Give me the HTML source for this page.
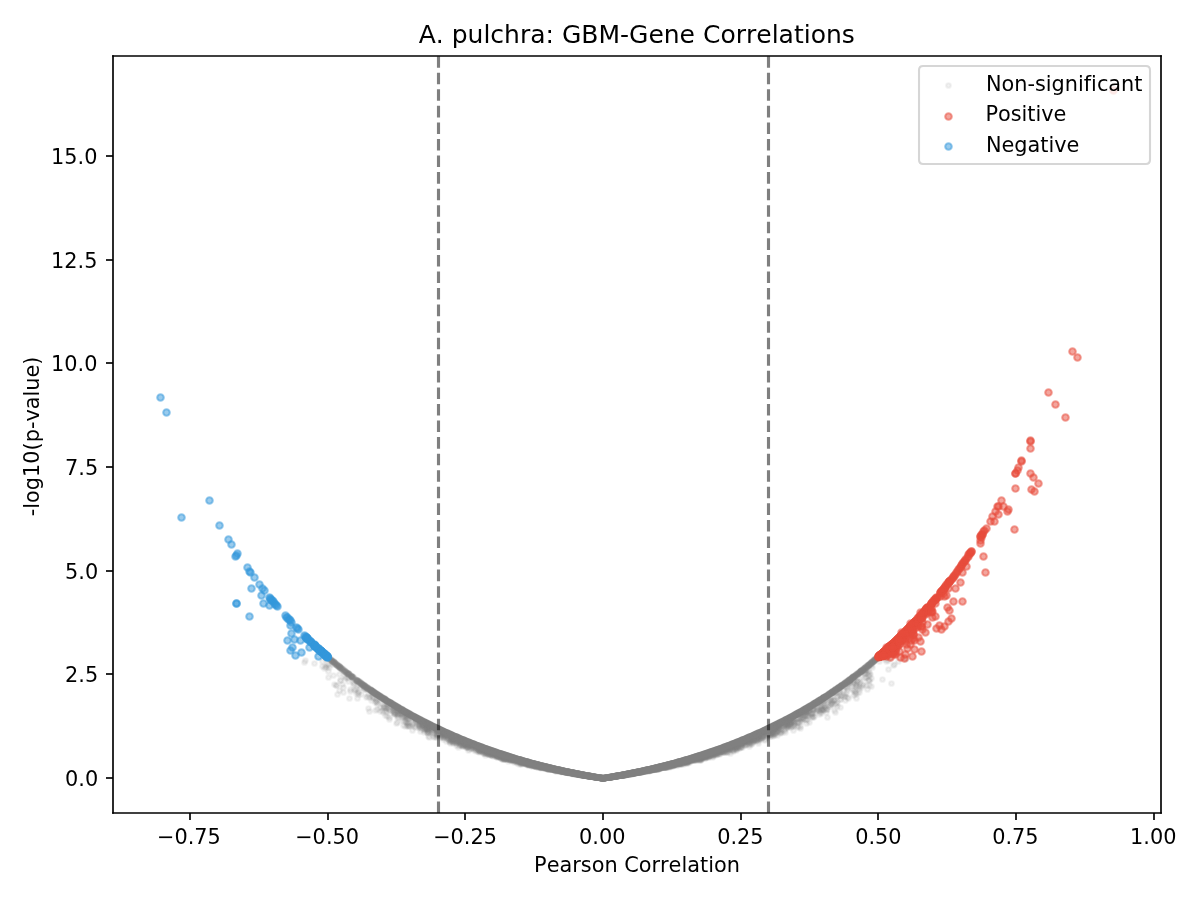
<!DOCTYPE html>
<html lang="en"><head><meta charset="utf-8"><title>A. pulchra: GBM-Gene Correlations</title>
<style>
html,body{margin:0;padding:0;background:#fff}
svg{display:block}
text{font-family:"DejaVu Sans","Liberation Sans",sans-serif;fill:#000;font-variant-ligatures:none;font-kerning:none}
.t{font-size:20.833px}
.ti{font-size:25px}
</style></head>
<body>
<svg width="1200" height="900" viewBox="0 0 1200 900">
<rect width="1200" height="900" fill="#fff"/>
<defs><clipPath id="c"><rect x="113" y="56" width="1048" height="757"/></clipPath></defs>
<g clip-path="url(#c)">
<g fill="#808080" stroke="#808080" stroke-width="2.083" fill-opacity="0.100" stroke-opacity="0.100">
<circle cx="304.5" cy="662.5" r="2.33"/><circle cx="305.5" cy="660.5" r="2.33"/><circle cx="314.5" cy="663.5" r="2.33"/><circle cx="322.5" cy="661.5" r="2.33"/><circle cx="322.5" cy="666.5" r="2.33"/><circle cx="324.5" cy="668.5" r="2.33"/><circle cx="325.5" cy="666.5" r="2.33"/><circle cx="326.5" cy="659.5" r="2.33"/><circle cx="326.5" cy="667.5" r="2.33"/><circle cx="327.5" cy="664.5" r="2.33"/><circle cx="328.5" cy="665.5" r="2.33"/><circle cx="328.5" cy="671.5" r="2.33"/><circle cx="328.5" cy="677.5" r="2.33"/><circle cx="329.5" cy="667.5" r="2.33"/><circle cx="331.5" cy="659.5" r="2.33"/><circle cx="333.5" cy="662.5" r="2.33"/><circle cx="333.5" cy="664.5" r="2.33"/><circle cx="333.5" cy="675.5" r="2.33"/><circle cx="334.5" cy="663.5" r="2.33"/><circle cx="334.5" cy="684.5" r="2.33"/><circle cx="335.5" cy="664.5" r="2.33"/><circle cx="337.5" cy="664.5" r="2.33"/><circle cx="337.5" cy="694.5" r="2.33"/><circle cx="338.5" cy="665.5" r="2.33"/><circle cx="339.5" cy="674.5" r="2.33"/><circle cx="339.5" cy="690.5" r="2.33"/><circle cx="342.5" cy="668.5" r="2.33"/><circle cx="342.5" cy="684.5" r="2.33"/><circle cx="343.5" cy="669.5" r="2.33"/><circle cx="343.5" cy="687.5" r="2.33"/><circle cx="343.5" cy="692.5" r="2.33"/><circle cx="344.5" cy="676.5" r="2.33"/><circle cx="345.5" cy="678.5" r="2.33"/><circle cx="346.5" cy="677.5" r="2.33"/><circle cx="348.5" cy="678.5" r="2.33"/><circle cx="348.5" cy="681.5" r="2.33"/><circle cx="349.5" cy="698.5" r="2.33"/><circle cx="350.5" cy="689.5" r="2.33"/><circle cx="350.5" cy="691.5" r="2.33"/><circle cx="353.5" cy="678.5" r="2.33"/><circle cx="353.5" cy="682.5" r="2.33"/><circle cx="353.5" cy="684.5" r="2.33"/><circle cx="354.5" cy="678.5" r="2.33"/><circle cx="354.5" cy="683.5" r="2.33"/><circle cx="354.5" cy="689.5" r="2.33"/><circle cx="355.5" cy="690.5" r="2.33"/><circle cx="356.5" cy="688.5" r="2.33"/><circle cx="356.5" cy="693.5" r="2.33"/><circle cx="357.5" cy="698.5" r="2.33"/><circle cx="358.5" cy="685.5" r="2.33"/><circle cx="358.5" cy="694.5" r="2.33"/><circle cx="360.5" cy="683.5" r="2.33"/><circle cx="360.5" cy="687.5" r="2.33"/><circle cx="361.5" cy="694.5" r="2.33"/><circle cx="363.5" cy="684.5" r="2.33"/><circle cx="363.5" cy="687.5" r="2.33"/><circle cx="364.5" cy="688.5" r="2.33"/><circle cx="364.5" cy="689.5" r="2.33"/><circle cx="366.5" cy="697.5" r="2.33"/><circle cx="367.5" cy="696.5" r="2.33"/><circle cx="368.5" cy="694.5" r="2.33"/><circle cx="368.5" cy="708.5" r="2.33"/><circle cx="369.5" cy="697.5" r="2.33"/><circle cx="369.5" cy="711.5" r="2.33"/><circle cx="371.5" cy="692.5" r="2.33"/><circle cx="371.5" cy="700.5" r="2.33"/><circle cx="372.5" cy="695.5" r="2.33"/><circle cx="372.5" cy="697.5" r="2.33"/><circle cx="373.5" cy="693.5" r="2.33"/><circle cx="373.5" cy="697.5" r="2.33"/><circle cx="373.5" cy="698.5" r="2.33"/><circle cx="374.5" cy="693.5" r="2.33"/><circle cx="375.5" cy="702.5" r="2.33"/><circle cx="375.5" cy="710.5" r="2.33"/><circle cx="376.5" cy="699.5" r="2.33"/><circle cx="377.5" cy="702.5" r="2.33"/><circle cx="377.5" cy="704.5" r="2.33"/><circle cx="377.5" cy="709.5" r="2.33"/><circle cx="378.5" cy="699.5" r="2.33"/><circle cx="380.5" cy="707.5" r="2.33"/><circle cx="380.5" cy="711.5" r="2.33"/><circle cx="381.5" cy="696.5" r="2.33"/><circle cx="382.5" cy="703.5" r="2.33"/><circle cx="382.5" cy="710.5" r="2.33"/><circle cx="383.5" cy="705.5" r="2.33"/><circle cx="383.5" cy="707.5" r="2.33"/><circle cx="383.5" cy="712.5" r="2.33"/><circle cx="384.5" cy="701.5" r="2.33"/><circle cx="385.5" cy="710.5" r="2.33"/><circle cx="385.5" cy="715.5" r="2.33"/><circle cx="386.5" cy="708.5" r="2.33"/><circle cx="386.5" cy="712.5" r="2.33"/><circle cx="387.5" cy="702.5" r="2.33"/><circle cx="387.5" cy="704.5" r="2.33"/><circle cx="387.5" cy="716.5" r="2.33"/><circle cx="388.5" cy="703.5" r="2.33"/><circle cx="388.5" cy="705.5" r="2.33"/><circle cx="389.5" cy="717.5" r="2.33"/><circle cx="389.5" cy="719.5" r="2.33"/><circle cx="390.5" cy="704.5" r="2.33"/><circle cx="391.5" cy="710.5" r="2.33"/><circle cx="393.5" cy="707.5" r="2.33"/><circle cx="393.5" cy="708.5" r="2.33"/><circle cx="393.5" cy="709.5" r="2.33"/><circle cx="393.5" cy="711.5" r="2.33"/><circle cx="393.5" cy="712.5" r="2.33"/><circle cx="394.5" cy="708.5" r="2.33"/><circle cx="394.5" cy="711.5" r="2.33"/><circle cx="394.5" cy="714.5" r="2.33"/><circle cx="396.5" cy="712.5" r="2.33"/><circle cx="396.5" cy="723.5" r="2.33"/><circle cx="397.5" cy="711.5" r="2.33"/><circle cx="397.5" cy="714.5" r="2.33"/><circle cx="397.5" cy="715.5" r="2.33"/><circle cx="397.5" cy="717.5" r="2.33"/><circle cx="397.5" cy="722.5" r="2.33"/><circle cx="398.5" cy="709.5" r="2.33"/><circle cx="398.5" cy="710.5" r="2.33"/><circle cx="398.5" cy="713.5" r="2.33"/><circle cx="398.5" cy="714.5" r="2.33"/><circle cx="398.5" cy="717.5" r="2.33"/><circle cx="399.5" cy="711.5" r="2.33"/><circle cx="400.5" cy="710.5" r="2.33"/><circle cx="400.5" cy="713.5" r="2.33"/><circle cx="400.5" cy="714.5" r="2.33"/><circle cx="401.5" cy="710.5" r="2.33"/><circle cx="402.5" cy="711.5" r="2.33"/><circle cx="402.5" cy="713.5" r="2.33"/><circle cx="402.5" cy="717.5" r="2.33"/><circle cx="402.5" cy="720.5" r="2.33"/><circle cx="403.5" cy="715.5" r="2.33"/><circle cx="403.5" cy="717.5" r="2.33"/><circle cx="403.5" cy="725.5" r="2.33"/><circle cx="404.5" cy="712.5" r="2.33"/><circle cx="404.5" cy="716.5" r="2.33"/><circle cx="404.5" cy="721.5" r="2.33"/><circle cx="405.5" cy="713.5" r="2.33"/><circle cx="405.5" cy="716.5" r="2.33"/><circle cx="405.5" cy="719.5" r="2.33"/><circle cx="405.5" cy="726.5" r="2.33"/><circle cx="406.5" cy="716.5" r="2.33"/><circle cx="406.5" cy="717.5" r="2.33"/><circle cx="406.5" cy="721.5" r="2.33"/><circle cx="406.5" cy="722.5" r="2.33"/><circle cx="407.5" cy="714.5" r="2.33"/><circle cx="407.5" cy="715.5" r="2.33"/><circle cx="407.5" cy="717.5" r="2.33"/><circle cx="407.5" cy="718.5" r="2.33"/><circle cx="407.5" cy="723.5" r="2.33"/><circle cx="408.5" cy="714.5" r="2.33"/><circle cx="408.5" cy="715.5" r="2.33"/><circle cx="408.5" cy="722.5" r="2.33"/><circle cx="408.5" cy="723.5" r="2.33"/><circle cx="408.5" cy="726.5" r="2.33"/><circle cx="409.5" cy="715.5" r="2.33"/><circle cx="409.5" cy="716.5" r="2.33"/><circle cx="409.5" cy="725.5" r="2.33"/><circle cx="409.5" cy="726.5" r="2.33"/><circle cx="411.5" cy="714.5" r="2.33"/><circle cx="412.5" cy="718.5" r="2.33"/><circle cx="412.5" cy="719.5" r="2.33"/><circle cx="412.5" cy="725.5" r="2.33"/><circle cx="412.5" cy="730.5" r="2.33"/><circle cx="413.5" cy="723.5" r="2.33"/><circle cx="413.5" cy="724.5" r="2.33"/><circle cx="414.5" cy="726.5" r="2.33"/><circle cx="415.5" cy="722.5" r="2.33"/><circle cx="415.5" cy="727.5" r="2.33"/><circle cx="416.5" cy="720.5" r="2.33"/><circle cx="416.5" cy="721.5" r="2.33"/><circle cx="417.5" cy="721.5" r="2.33"/><circle cx="418.5" cy="720.5" r="2.33"/><circle cx="418.5" cy="727.5" r="2.33"/><circle cx="419.5" cy="720.5" r="2.33"/><circle cx="419.5" cy="723.5" r="2.33"/><circle cx="419.5" cy="724.5" r="2.33"/><circle cx="419.5" cy="726.5" r="2.33"/><circle cx="420.5" cy="721.5" r="2.33"/><circle cx="420.5" cy="723.5" r="2.33"/><circle cx="420.5" cy="726.5" r="2.33"/><circle cx="420.5" cy="727.5" r="2.33"/><circle cx="420.5" cy="728.5" r="2.33"/><circle cx="420.5" cy="731.5" r="2.33"/><circle cx="421.5" cy="721.5" r="2.33"/><circle cx="421.5" cy="724.5" r="2.33"/><circle cx="422.5" cy="723.5" r="2.33"/><circle cx="422.5" cy="724.5" r="2.33"/><circle cx="422.5" cy="726.5" r="2.33"/><circle cx="422.5" cy="729.5" r="2.33"/><circle cx="424.5" cy="730.5" r="2.33"/><circle cx="424.5" cy="732.5" r="2.33"/><circle cx="425.5" cy="724.5" r="2.33"/><circle cx="425.5" cy="725.5" r="2.33"/><circle cx="425.5" cy="728.5" r="2.33"/><circle cx="425.5" cy="729.5" r="2.33"/><circle cx="426.5" cy="726.5" r="2.33"/><circle cx="426.5" cy="729.5" r="2.33"/><circle cx="427.5" cy="725.5" r="2.33"/><circle cx="427.5" cy="729.5" r="2.33"/><circle cx="427.5" cy="730.5" r="2.33"/><circle cx="428.5" cy="727.5" r="2.33"/><circle cx="428.5" cy="729.5" r="2.33"/><circle cx="428.5" cy="730.5" r="2.33"/><circle cx="428.5" cy="731.5" r="2.33"/><circle cx="428.5" cy="733.5" r="2.33"/><circle cx="428.5" cy="736.5" r="2.33"/><circle cx="429.5" cy="727.5" r="2.33"/><circle cx="429.5" cy="728.5" r="2.33"/><circle cx="429.5" cy="731.5" r="2.33"/><circle cx="429.5" cy="737.5" r="2.33"/><circle cx="430.5" cy="727.5" r="2.33"/><circle cx="430.5" cy="732.5" r="2.33"/><circle cx="431.5" cy="727.5" r="2.33"/><circle cx="431.5" cy="729.5" r="2.33"/><circle cx="432.5" cy="727.5" r="2.33"/><circle cx="432.5" cy="729.5" r="2.33"/><circle cx="432.5" cy="731.5" r="2.33"/><circle cx="432.5" cy="732.5" r="2.33"/><circle cx="433.5" cy="733.5" r="2.33"/><circle cx="433.5" cy="736.5" r="2.33"/><circle cx="434.5" cy="728.5" r="2.33"/><circle cx="434.5" cy="737.5" r="2.33"/><circle cx="435.5" cy="729.5" r="2.33"/><circle cx="435.5" cy="734.5" r="2.33"/><circle cx="436.5" cy="729.5" r="2.33"/><circle cx="436.5" cy="731.5" r="2.33"/><circle cx="436.5" cy="736.5" r="2.33"/><circle cx="436.5" cy="737.5" r="2.33"/><circle cx="437.5" cy="732.5" r="2.33"/><circle cx="437.5" cy="735.5" r="2.33"/><circle cx="438.5" cy="730.5" r="2.33"/><circle cx="438.5" cy="735.5" r="2.33"/><circle cx="439.5" cy="732.5" r="2.33"/><circle cx="439.5" cy="734.5" r="2.33"/><circle cx="440.5" cy="731.5" r="2.33"/><circle cx="440.5" cy="734.5" r="2.33"/><circle cx="440.5" cy="735.5" r="2.33"/><circle cx="440.5" cy="737.5" r="2.33"/><circle cx="441.5" cy="733.5" r="2.33"/><circle cx="442.5" cy="733.5" r="2.33"/><circle cx="442.5" cy="734.5" r="2.33"/><circle cx="442.5" cy="735.5" r="2.33"/><circle cx="442.5" cy="736.5" r="2.33"/><circle cx="442.5" cy="737.5" r="2.33"/><circle cx="443.5" cy="732.5" r="2.33"/><circle cx="443.5" cy="733.5" r="2.33"/><circle cx="443.5" cy="734.5" r="2.33"/><circle cx="443.5" cy="739.5" r="2.33"/><circle cx="444.5" cy="734.5" r="2.33"/><circle cx="444.5" cy="736.5" r="2.33"/><circle cx="444.5" cy="737.5" r="2.33"/><circle cx="445.5" cy="734.5" r="2.33"/><circle cx="445.5" cy="735.5" r="2.33"/><circle cx="445.5" cy="736.5" r="2.33"/><circle cx="446.5" cy="733.5" r="2.33"/><circle cx="446.5" cy="741.5" r="2.33"/><circle cx="448.5" cy="736.5" r="2.33"/><circle cx="448.5" cy="737.5" r="2.33"/><circle cx="449.5" cy="736.5" r="2.33"/><circle cx="449.5" cy="739.5" r="2.33"/><circle cx="449.5" cy="740.5" r="2.33"/><circle cx="449.5" cy="741.5" r="2.33"/><circle cx="450.5" cy="735.5" r="2.33"/><circle cx="450.5" cy="738.5" r="2.33"/><circle cx="450.5" cy="739.5" r="2.33"/><circle cx="450.5" cy="742.5" r="2.33"/><circle cx="450.5" cy="743.5" r="2.33"/><circle cx="451.5" cy="741.5" r="2.33"/><circle cx="452.5" cy="736.5" r="2.33"/><circle cx="452.5" cy="738.5" r="2.33"/><circle cx="452.5" cy="739.5" r="2.33"/><circle cx="452.5" cy="740.5" r="2.33"/><circle cx="453.5" cy="743.5" r="2.33"/><circle cx="454.5" cy="739.5" r="2.33"/><circle cx="454.5" cy="740.5" r="2.33"/><circle cx="455.5" cy="738.5" r="2.33"/><circle cx="455.5" cy="742.5" r="2.33"/><circle cx="456.5" cy="738.5" r="2.33"/><circle cx="456.5" cy="740.5" r="2.33"/><circle cx="456.5" cy="743.5" r="2.33"/><circle cx="456.5" cy="745.5" r="2.33"/><circle cx="457.5" cy="738.5" r="2.33"/><circle cx="457.5" cy="741.5" r="2.33"/><circle cx="458.5" cy="741.5" r="2.33"/><circle cx="458.5" cy="747.5" r="2.33"/><circle cx="459.5" cy="739.5" r="2.33"/><circle cx="459.5" cy="742.5" r="2.33"/><circle cx="459.5" cy="744.5" r="2.33"/><circle cx="459.5" cy="745.5" r="2.33"/><circle cx="460.5" cy="740.5" r="2.33"/><circle cx="460.5" cy="745.5" r="2.33"/><circle cx="461.5" cy="744.5" r="2.33"/><circle cx="461.5" cy="745.5" r="2.33"/><circle cx="462.5" cy="745.5" r="2.33"/><circle cx="462.5" cy="746.5" r="2.33"/><circle cx="463.5" cy="745.5" r="2.33"/><circle cx="463.5" cy="746.5" r="2.33"/><circle cx="464.5" cy="744.5" r="2.33"/><circle cx="465.5" cy="742.5" r="2.33"/><circle cx="466.5" cy="744.5" r="2.33"/><circle cx="466.5" cy="745.5" r="2.33"/><circle cx="468.5" cy="745.5" r="2.33"/><circle cx="468.5" cy="746.5" r="2.33"/><circle cx="468.5" cy="750.5" r="2.33"/><circle cx="469.5" cy="744.5" r="2.33"/><circle cx="469.5" cy="749.5" r="2.33"/><circle cx="470.5" cy="744.5" r="2.33"/><circle cx="470.5" cy="745.5" r="2.33"/><circle cx="470.5" cy="746.5" r="2.33"/><circle cx="471.5" cy="744.5" r="2.33"/><circle cx="472.5" cy="747.5" r="2.33"/><circle cx="473.5" cy="747.5" r="2.33"/><circle cx="473.5" cy="748.5" r="2.33"/><circle cx="474.5" cy="745.5" r="2.33"/><circle cx="474.5" cy="747.5" r="2.33"/><circle cx="474.5" cy="749.5" r="2.33"/><circle cx="474.5" cy="750.5" r="2.33"/><circle cx="475.5" cy="746.5" r="2.33"/><circle cx="475.5" cy="747.5" r="2.33"/><circle cx="476.5" cy="748.5" r="2.33"/><circle cx="476.5" cy="751.5" r="2.33"/><circle cx="477.5" cy="747.5" r="2.33"/><circle cx="478.5" cy="748.5" r="2.33"/><circle cx="479.5" cy="749.5" r="2.33"/><circle cx="479.5" cy="752.5" r="2.33"/><circle cx="480.5" cy="748.5" r="2.33"/><circle cx="481.5" cy="748.5" r="2.33"/><circle cx="482.5" cy="749.5" r="2.33"/><circle cx="483.5" cy="750.5" r="2.33"/><circle cx="483.5" cy="752.5" r="2.33"/><circle cx="483.5" cy="753.5" r="2.33"/><circle cx="484.5" cy="751.5" r="2.33"/><circle cx="485.5" cy="753.5" r="2.33"/><circle cx="485.5" cy="755.5" r="2.33"/><circle cx="486.5" cy="751.5" r="2.33"/><circle cx="486.5" cy="752.5" r="2.33"/><circle cx="487.5" cy="752.5" r="2.33"/><circle cx="487.5" cy="753.5" r="2.33"/><circle cx="489.5" cy="752.5" r="2.33"/><circle cx="489.5" cy="754.5" r="2.33"/><circle cx="490.5" cy="754.5" r="2.33"/><circle cx="490.5" cy="755.5" r="2.33"/><circle cx="491.5" cy="753.5" r="2.33"/><circle cx="491.5" cy="755.5" r="2.33"/><circle cx="492.5" cy="752.5" r="2.33"/><circle cx="492.5" cy="754.5" r="2.33"/><circle cx="493.5" cy="753.5" r="2.33"/><circle cx="493.5" cy="756.5" r="2.33"/><circle cx="494.5" cy="753.5" r="2.33"/><circle cx="495.5" cy="753.5" r="2.33"/><circle cx="495.5" cy="754.5" r="2.33"/><circle cx="495.5" cy="756.5" r="2.33"/><circle cx="496.5" cy="756.5" r="2.33"/><circle cx="499.5" cy="757.5" r="2.33"/><circle cx="500.5" cy="756.5" r="2.33"/><circle cx="501.5" cy="757.5" r="2.33"/><circle cx="502.5" cy="759.5" r="2.33"/><circle cx="504.5" cy="759.5" r="2.33"/><circle cx="505.5" cy="758.5" r="2.33"/><circle cx="505.5" cy="759.5" r="2.33"/><circle cx="508.5" cy="761.5" r="2.33"/><circle cx="511.5" cy="759.5" r="2.33"/><circle cx="513.5" cy="760.5" r="2.33"/><circle cx="513.5" cy="761.5" r="2.33"/><circle cx="514.5" cy="762.5" r="2.33"/><circle cx="515.5" cy="761.5" r="2.33"/><circle cx="517.5" cy="761.5" r="2.33"/><circle cx="517.5" cy="762.5" r="2.33"/><circle cx="517.5" cy="763.5" r="2.33"/><circle cx="519.5" cy="762.5" r="2.33"/><circle cx="519.5" cy="764.5" r="2.33"/><circle cx="520.5" cy="762.5" r="2.33"/><circle cx="520.5" cy="763.5" r="2.33"/><circle cx="521.5" cy="764.5" r="2.33"/><circle cx="522.5" cy="763.5" r="2.33"/><circle cx="527.5" cy="764.5" r="2.33"/><circle cx="531.5" cy="765.5" r="2.33"/><circle cx="537.5" cy="767.5" r="2.33"/><circle cx="541.5" cy="768.5" r="2.33"/><circle cx="544.5" cy="768.5" r="2.33"/><circle cx="547.5" cy="769.5" r="2.33"/><circle cx="550.5" cy="769.5" r="2.33"/><circle cx="559.5" cy="771.5" r="2.33"/><circle cx="562.5" cy="772.5" r="2.33"/><circle cx="573.5" cy="774.5" r="2.33"/><circle cx="580.5" cy="775.5" r="2.33"/><circle cx="600.5" cy="778.5" r="2.33"/><circle cx="625.5" cy="775.5" r="2.33"/><circle cx="630.5" cy="774.5" r="2.33"/><circle cx="646.5" cy="771.5" r="2.33"/><circle cx="651.5" cy="770.5" r="2.33"/><circle cx="652.5" cy="770.5" r="2.33"/><circle cx="658.5" cy="769.5" r="2.33"/><circle cx="667.5" cy="767.5" r="2.33"/><circle cx="669.5" cy="767.5" r="2.33"/><circle cx="670.5" cy="766.5" r="2.33"/><circle cx="671.5" cy="766.5" r="2.33"/><circle cx="672.5" cy="766.5" r="2.33"/><circle cx="674.5" cy="765.5" r="2.33"/><circle cx="676.5" cy="765.5" r="2.33"/><circle cx="677.5" cy="764.5" r="2.33"/><circle cx="677.5" cy="765.5" r="2.33"/><circle cx="680.5" cy="764.5" r="2.33"/><circle cx="681.5" cy="764.5" r="2.33"/><circle cx="683.5" cy="764.5" r="2.33"/><circle cx="684.5" cy="763.5" r="2.33"/><circle cx="686.5" cy="763.5" r="2.33"/><circle cx="687.5" cy="762.5" r="2.33"/><circle cx="687.5" cy="763.5" r="2.33"/><circle cx="688.5" cy="758.5" r="2.33"/><circle cx="688.5" cy="762.5" r="2.33"/><circle cx="689.5" cy="761.5" r="2.33"/><circle cx="689.5" cy="762.5" r="2.33"/><circle cx="690.5" cy="761.5" r="2.33"/><circle cx="693.5" cy="759.5" r="2.33"/><circle cx="694.5" cy="760.5" r="2.33"/><circle cx="696.5" cy="760.5" r="2.33"/><circle cx="697.5" cy="759.5" r="2.33"/><circle cx="698.5" cy="758.5" r="2.33"/><circle cx="698.5" cy="759.5" r="2.33"/><circle cx="699.5" cy="760.5" r="2.33"/><circle cx="701.5" cy="757.5" r="2.33"/><circle cx="702.5" cy="756.5" r="2.33"/><circle cx="702.5" cy="758.5" r="2.33"/><circle cx="704.5" cy="757.5" r="2.33"/><circle cx="704.5" cy="758.5" r="2.33"/><circle cx="705.5" cy="758.5" r="2.33"/><circle cx="707.5" cy="756.5" r="2.33"/><circle cx="708.5" cy="754.5" r="2.33"/><circle cx="710.5" cy="756.5" r="2.33"/><circle cx="711.5" cy="755.5" r="2.33"/><circle cx="712.5" cy="755.5" r="2.33"/><circle cx="712.5" cy="757.5" r="2.33"/><circle cx="713.5" cy="753.5" r="2.33"/><circle cx="713.5" cy="755.5" r="2.33"/><circle cx="713.5" cy="756.5" r="2.33"/><circle cx="714.5" cy="754.5" r="2.33"/><circle cx="715.5" cy="752.5" r="2.33"/><circle cx="715.5" cy="754.5" r="2.33"/><circle cx="715.5" cy="755.5" r="2.33"/><circle cx="716.5" cy="754.5" r="2.33"/><circle cx="718.5" cy="751.5" r="2.33"/><circle cx="718.5" cy="753.5" r="2.33"/><circle cx="719.5" cy="752.5" r="2.33"/><circle cx="719.5" cy="753.5" r="2.33"/><circle cx="719.5" cy="754.5" r="2.33"/><circle cx="720.5" cy="753.5" r="2.33"/><circle cx="722.5" cy="751.5" r="2.33"/><circle cx="723.5" cy="751.5" r="2.33"/><circle cx="723.5" cy="752.5" r="2.33"/><circle cx="724.5" cy="749.5" r="2.33"/><circle cx="724.5" cy="752.5" r="2.33"/><circle cx="725.5" cy="747.5" r="2.33"/><circle cx="725.5" cy="752.5" r="2.33"/><circle cx="726.5" cy="748.5" r="2.33"/><circle cx="726.5" cy="749.5" r="2.33"/><circle cx="726.5" cy="750.5" r="2.33"/><circle cx="727.5" cy="749.5" r="2.33"/><circle cx="727.5" cy="751.5" r="2.33"/><circle cx="728.5" cy="749.5" r="2.33"/><circle cx="729.5" cy="748.5" r="2.33"/><circle cx="729.5" cy="751.5" r="2.33"/><circle cx="730.5" cy="748.5" r="2.33"/><circle cx="730.5" cy="749.5" r="2.33"/><circle cx="730.5" cy="753.5" r="2.33"/><circle cx="731.5" cy="746.5" r="2.33"/><circle cx="731.5" cy="749.5" r="2.33"/><circle cx="732.5" cy="750.5" r="2.33"/><circle cx="733.5" cy="745.5" r="2.33"/><circle cx="733.5" cy="749.5" r="2.33"/><circle cx="733.5" cy="750.5" r="2.33"/><circle cx="733.5" cy="751.5" r="2.33"/><circle cx="735.5" cy="746.5" r="2.33"/><circle cx="735.5" cy="747.5" r="2.33"/><circle cx="735.5" cy="749.5" r="2.33"/><circle cx="736.5" cy="743.5" r="2.33"/><circle cx="736.5" cy="747.5" r="2.33"/><circle cx="736.5" cy="749.5" r="2.33"/><circle cx="736.5" cy="750.5" r="2.33"/><circle cx="737.5" cy="746.5" r="2.33"/><circle cx="738.5" cy="746.5" r="2.33"/><circle cx="738.5" cy="748.5" r="2.33"/><circle cx="739.5" cy="743.5" r="2.33"/><circle cx="739.5" cy="746.5" r="2.33"/><circle cx="739.5" cy="748.5" r="2.33"/><circle cx="741.5" cy="743.5" r="2.33"/><circle cx="741.5" cy="745.5" r="2.33"/><circle cx="741.5" cy="746.5" r="2.33"/><circle cx="741.5" cy="747.5" r="2.33"/><circle cx="742.5" cy="742.5" r="2.33"/><circle cx="742.5" cy="743.5" r="2.33"/><circle cx="742.5" cy="744.5" r="2.33"/><circle cx="742.5" cy="747.5" r="2.33"/><circle cx="743.5" cy="740.5" r="2.33"/><circle cx="743.5" cy="743.5" r="2.33"/><circle cx="744.5" cy="744.5" r="2.33"/><circle cx="744.5" cy="745.5" r="2.33"/><circle cx="745.5" cy="740.5" r="2.33"/><circle cx="745.5" cy="741.5" r="2.33"/><circle cx="745.5" cy="742.5" r="2.33"/><circle cx="745.5" cy="745.5" r="2.33"/><circle cx="746.5" cy="739.5" r="2.33"/><circle cx="747.5" cy="740.5" r="2.33"/><circle cx="748.5" cy="742.5" r="2.33"/><circle cx="748.5" cy="744.5" r="2.33"/><circle cx="749.5" cy="738.5" r="2.33"/><circle cx="749.5" cy="741.5" r="2.33"/><circle cx="749.5" cy="743.5" r="2.33"/><circle cx="749.5" cy="746.5" r="2.33"/><circle cx="750.5" cy="737.5" r="2.33"/><circle cx="750.5" cy="738.5" r="2.33"/><circle cx="750.5" cy="741.5" r="2.33"/><circle cx="750.5" cy="742.5" r="2.33"/><circle cx="750.5" cy="744.5" r="2.33"/><circle cx="751.5" cy="737.5" r="2.33"/><circle cx="751.5" cy="738.5" r="2.33"/><circle cx="751.5" cy="744.5" r="2.33"/><circle cx="752.5" cy="742.5" r="2.33"/><circle cx="752.5" cy="743.5" r="2.33"/><circle cx="755.5" cy="736.5" r="2.33"/><circle cx="755.5" cy="739.5" r="2.33"/><circle cx="755.5" cy="740.5" r="2.33"/><circle cx="756.5" cy="737.5" r="2.33"/><circle cx="756.5" cy="738.5" r="2.33"/><circle cx="756.5" cy="739.5" r="2.33"/><circle cx="757.5" cy="734.5" r="2.33"/><circle cx="757.5" cy="737.5" r="2.33"/><circle cx="757.5" cy="738.5" r="2.33"/><circle cx="757.5" cy="739.5" r="2.33"/><circle cx="757.5" cy="741.5" r="2.33"/><circle cx="758.5" cy="738.5" r="2.33"/><circle cx="758.5" cy="740.5" r="2.33"/><circle cx="758.5" cy="743.5" r="2.33"/><circle cx="759.5" cy="735.5" r="2.33"/><circle cx="759.5" cy="736.5" r="2.33"/><circle cx="759.5" cy="737.5" r="2.33"/><circle cx="759.5" cy="739.5" r="2.33"/><circle cx="760.5" cy="733.5" r="2.33"/><circle cx="760.5" cy="734.5" r="2.33"/><circle cx="760.5" cy="737.5" r="2.33"/><circle cx="761.5" cy="732.5" r="2.33"/><circle cx="761.5" cy="737.5" r="2.33"/><circle cx="761.5" cy="738.5" r="2.33"/><circle cx="761.5" cy="739.5" r="2.33"/><circle cx="762.5" cy="733.5" r="2.33"/><circle cx="762.5" cy="735.5" r="2.33"/><circle cx="762.5" cy="736.5" r="2.33"/><circle cx="763.5" cy="732.5" r="2.33"/><circle cx="763.5" cy="735.5" r="2.33"/><circle cx="763.5" cy="736.5" r="2.33"/><circle cx="764.5" cy="731.5" r="2.33"/><circle cx="764.5" cy="733.5" r="2.33"/><circle cx="764.5" cy="740.5" r="2.33"/><circle cx="765.5" cy="734.5" r="2.33"/><circle cx="765.5" cy="739.5" r="2.33"/><circle cx="766.5" cy="730.5" r="2.33"/><circle cx="766.5" cy="731.5" r="2.33"/><circle cx="766.5" cy="732.5" r="2.33"/><circle cx="766.5" cy="735.5" r="2.33"/><circle cx="766.5" cy="736.5" r="2.33"/><circle cx="767.5" cy="733.5" r="2.33"/><circle cx="767.5" cy="735.5" r="2.33"/><circle cx="767.5" cy="737.5" r="2.33"/><circle cx="768.5" cy="733.5" r="2.33"/><circle cx="768.5" cy="734.5" r="2.33"/><circle cx="769.5" cy="730.5" r="2.33"/><circle cx="769.5" cy="732.5" r="2.33"/><circle cx="770.5" cy="728.5" r="2.33"/><circle cx="770.5" cy="732.5" r="2.33"/><circle cx="770.5" cy="734.5" r="2.33"/><circle cx="770.5" cy="735.5" r="2.33"/><circle cx="770.5" cy="736.5" r="2.33"/><circle cx="771.5" cy="729.5" r="2.33"/><circle cx="771.5" cy="731.5" r="2.33"/><circle cx="771.5" cy="733.5" r="2.33"/><circle cx="771.5" cy="734.5" r="2.33"/><circle cx="772.5" cy="730.5" r="2.33"/><circle cx="772.5" cy="734.5" r="2.33"/><circle cx="772.5" cy="736.5" r="2.33"/><circle cx="773.5" cy="729.5" r="2.33"/><circle cx="773.5" cy="730.5" r="2.33"/><circle cx="773.5" cy="731.5" r="2.33"/><circle cx="773.5" cy="733.5" r="2.33"/><circle cx="773.5" cy="735.5" r="2.33"/><circle cx="774.5" cy="731.5" r="2.33"/><circle cx="774.5" cy="733.5" r="2.33"/><circle cx="774.5" cy="735.5" r="2.33"/><circle cx="775.5" cy="727.5" r="2.33"/><circle cx="775.5" cy="729.5" r="2.33"/><circle cx="775.5" cy="732.5" r="2.33"/><circle cx="775.5" cy="733.5" r="2.33"/><circle cx="775.5" cy="734.5" r="2.33"/><circle cx="776.5" cy="725.5" r="2.33"/><circle cx="776.5" cy="726.5" r="2.33"/><circle cx="776.5" cy="730.5" r="2.33"/><circle cx="777.5" cy="726.5" r="2.33"/><circle cx="777.5" cy="728.5" r="2.33"/><circle cx="777.5" cy="730.5" r="2.33"/><circle cx="777.5" cy="731.5" r="2.33"/><circle cx="777.5" cy="735.5" r="2.33"/><circle cx="778.5" cy="724.5" r="2.33"/><circle cx="778.5" cy="725.5" r="2.33"/><circle cx="778.5" cy="726.5" r="2.33"/><circle cx="778.5" cy="727.5" r="2.33"/><circle cx="778.5" cy="729.5" r="2.33"/><circle cx="778.5" cy="731.5" r="2.33"/><circle cx="779.5" cy="724.5" r="2.33"/><circle cx="779.5" cy="728.5" r="2.33"/><circle cx="779.5" cy="730.5" r="2.33"/><circle cx="780.5" cy="725.5" r="2.33"/><circle cx="780.5" cy="733.5" r="2.33"/><circle cx="781.5" cy="723.5" r="2.33"/><circle cx="781.5" cy="724.5" r="2.33"/><circle cx="781.5" cy="729.5" r="2.33"/><circle cx="781.5" cy="730.5" r="2.33"/><circle cx="782.5" cy="726.5" r="2.33"/><circle cx="782.5" cy="732.5" r="2.33"/><circle cx="784.5" cy="721.5" r="2.33"/><circle cx="784.5" cy="723.5" r="2.33"/><circle cx="784.5" cy="726.5" r="2.33"/><circle cx="785.5" cy="722.5" r="2.33"/><circle cx="785.5" cy="724.5" r="2.33"/><circle cx="785.5" cy="732.5" r="2.33"/><circle cx="786.5" cy="720.5" r="2.33"/><circle cx="786.5" cy="722.5" r="2.33"/><circle cx="786.5" cy="724.5" r="2.33"/><circle cx="786.5" cy="725.5" r="2.33"/><circle cx="786.5" cy="727.5" r="2.33"/><circle cx="786.5" cy="728.5" r="2.33"/><circle cx="787.5" cy="720.5" r="2.33"/><circle cx="787.5" cy="721.5" r="2.33"/><circle cx="787.5" cy="724.5" r="2.33"/><circle cx="787.5" cy="725.5" r="2.33"/><circle cx="788.5" cy="719.5" r="2.33"/><circle cx="788.5" cy="722.5" r="2.33"/><circle cx="788.5" cy="723.5" r="2.33"/><circle cx="788.5" cy="724.5" r="2.33"/><circle cx="788.5" cy="726.5" r="2.33"/><circle cx="788.5" cy="727.5" r="2.33"/><circle cx="789.5" cy="719.5" r="2.33"/><circle cx="789.5" cy="721.5" r="2.33"/><circle cx="790.5" cy="719.5" r="2.33"/><circle cx="790.5" cy="721.5" r="2.33"/><circle cx="790.5" cy="722.5" r="2.33"/><circle cx="790.5" cy="724.5" r="2.33"/><circle cx="791.5" cy="722.5" r="2.33"/><circle cx="791.5" cy="726.5" r="2.33"/><circle cx="791.5" cy="727.5" r="2.33"/><circle cx="792.5" cy="717.5" r="2.33"/><circle cx="792.5" cy="720.5" r="2.33"/><circle cx="792.5" cy="725.5" r="2.33"/><circle cx="793.5" cy="722.5" r="2.33"/><circle cx="793.5" cy="726.5" r="2.33"/><circle cx="793.5" cy="730.5" r="2.33"/><circle cx="794.5" cy="716.5" r="2.33"/><circle cx="794.5" cy="720.5" r="2.33"/><circle cx="794.5" cy="721.5" r="2.33"/><circle cx="794.5" cy="723.5" r="2.33"/><circle cx="794.5" cy="724.5" r="2.33"/><circle cx="794.5" cy="725.5" r="2.33"/><circle cx="795.5" cy="718.5" r="2.33"/><circle cx="795.5" cy="722.5" r="2.33"/><circle cx="796.5" cy="718.5" r="2.33"/><circle cx="797.5" cy="726.5" r="2.33"/><circle cx="798.5" cy="714.5" r="2.33"/><circle cx="798.5" cy="722.5" r="2.33"/><circle cx="798.5" cy="727.5" r="2.33"/><circle cx="799.5" cy="714.5" r="2.33"/><circle cx="799.5" cy="722.5" r="2.33"/><circle cx="800.5" cy="713.5" r="2.33"/><circle cx="800.5" cy="719.5" r="2.33"/><circle cx="800.5" cy="720.5" r="2.33"/><circle cx="800.5" cy="726.5" r="2.33"/><circle cx="800.5" cy="728.5" r="2.33"/><circle cx="801.5" cy="714.5" r="2.33"/><circle cx="801.5" cy="718.5" r="2.33"/><circle cx="801.5" cy="721.5" r="2.33"/><circle cx="802.5" cy="712.5" r="2.33"/><circle cx="803.5" cy="712.5" r="2.33"/><circle cx="803.5" cy="714.5" r="2.33"/><circle cx="803.5" cy="717.5" r="2.33"/><circle cx="803.5" cy="719.5" r="2.33"/><circle cx="804.5" cy="712.5" r="2.33"/><circle cx="804.5" cy="715.5" r="2.33"/><circle cx="805.5" cy="710.5" r="2.33"/><circle cx="805.5" cy="711.5" r="2.33"/><circle cx="805.5" cy="715.5" r="2.33"/><circle cx="805.5" cy="716.5" r="2.33"/><circle cx="805.5" cy="719.5" r="2.33"/><circle cx="806.5" cy="709.5" r="2.33"/><circle cx="806.5" cy="712.5" r="2.33"/><circle cx="806.5" cy="714.5" r="2.33"/><circle cx="806.5" cy="715.5" r="2.33"/><circle cx="806.5" cy="719.5" r="2.33"/><circle cx="806.5" cy="723.5" r="2.33"/><circle cx="807.5" cy="710.5" r="2.33"/><circle cx="807.5" cy="715.5" r="2.33"/><circle cx="807.5" cy="720.5" r="2.33"/><circle cx="808.5" cy="711.5" r="2.33"/><circle cx="808.5" cy="716.5" r="2.33"/><circle cx="809.5" cy="710.5" r="2.33"/><circle cx="809.5" cy="711.5" r="2.33"/><circle cx="809.5" cy="712.5" r="2.33"/><circle cx="809.5" cy="722.5" r="2.33"/><circle cx="810.5" cy="707.5" r="2.33"/><circle cx="810.5" cy="714.5" r="2.33"/><circle cx="811.5" cy="706.5" r="2.33"/><circle cx="811.5" cy="708.5" r="2.33"/><circle cx="811.5" cy="716.5" r="2.33"/><circle cx="812.5" cy="713.5" r="2.33"/><circle cx="812.5" cy="714.5" r="2.33"/><circle cx="812.5" cy="716.5" r="2.33"/><circle cx="812.5" cy="717.5" r="2.33"/><circle cx="813.5" cy="708.5" r="2.33"/><circle cx="813.5" cy="710.5" r="2.33"/><circle cx="813.5" cy="717.5" r="2.33"/><circle cx="814.5" cy="704.5" r="2.33"/><circle cx="814.5" cy="716.5" r="2.33"/><circle cx="815.5" cy="709.5" r="2.33"/><circle cx="815.5" cy="712.5" r="2.33"/><circle cx="816.5" cy="710.5" r="2.33"/><circle cx="817.5" cy="704.5" r="2.33"/><circle cx="817.5" cy="708.5" r="2.33"/><circle cx="817.5" cy="710.5" r="2.33"/><circle cx="818.5" cy="702.5" r="2.33"/><circle cx="818.5" cy="703.5" r="2.33"/><circle cx="819.5" cy="702.5" r="2.33"/><circle cx="819.5" cy="707.5" r="2.33"/><circle cx="819.5" cy="709.5" r="2.33"/><circle cx="819.5" cy="710.5" r="2.33"/><circle cx="819.5" cy="714.5" r="2.33"/><circle cx="820.5" cy="703.5" r="2.33"/><circle cx="820.5" cy="706.5" r="2.33"/><circle cx="820.5" cy="711.5" r="2.33"/><circle cx="820.5" cy="712.5" r="2.33"/><circle cx="821.5" cy="708.5" r="2.33"/><circle cx="821.5" cy="713.5" r="2.33"/><circle cx="822.5" cy="700.5" r="2.33"/><circle cx="822.5" cy="705.5" r="2.33"/><circle cx="822.5" cy="710.5" r="2.33"/><circle cx="823.5" cy="701.5" r="2.33"/><circle cx="823.5" cy="703.5" r="2.33"/><circle cx="823.5" cy="710.5" r="2.33"/><circle cx="824.5" cy="700.5" r="2.33"/><circle cx="824.5" cy="707.5" r="2.33"/><circle cx="824.5" cy="709.5" r="2.33"/><circle cx="825.5" cy="700.5" r="2.33"/><circle cx="825.5" cy="706.5" r="2.33"/><circle cx="825.5" cy="707.5" r="2.33"/><circle cx="826.5" cy="712.5" r="2.33"/><circle cx="827.5" cy="709.5" r="2.33"/><circle cx="827.5" cy="717.5" r="2.33"/><circle cx="828.5" cy="695.5" r="2.33"/><circle cx="828.5" cy="698.5" r="2.33"/><circle cx="828.5" cy="700.5" r="2.33"/><circle cx="828.5" cy="706.5" r="2.33"/><circle cx="829.5" cy="701.5" r="2.33"/><circle cx="830.5" cy="699.5" r="2.33"/><circle cx="830.5" cy="706.5" r="2.33"/><circle cx="831.5" cy="696.5" r="2.33"/><circle cx="831.5" cy="700.5" r="2.33"/><circle cx="831.5" cy="702.5" r="2.33"/><circle cx="831.5" cy="704.5" r="2.33"/><circle cx="832.5" cy="701.5" r="2.33"/><circle cx="832.5" cy="703.5" r="2.33"/><circle cx="833.5" cy="693.5" r="2.33"/><circle cx="833.5" cy="699.5" r="2.33"/><circle cx="834.5" cy="692.5" r="2.33"/><circle cx="834.5" cy="710.5" r="2.33"/><circle cx="835.5" cy="691.5" r="2.33"/><circle cx="835.5" cy="704.5" r="2.33"/><circle cx="835.5" cy="712.5" r="2.33"/><circle cx="836.5" cy="688.5" r="2.33"/><circle cx="836.5" cy="693.5" r="2.33"/><circle cx="836.5" cy="703.5" r="2.33"/><circle cx="837.5" cy="702.5" r="2.33"/><circle cx="837.5" cy="706.5" r="2.33"/><circle cx="838.5" cy="689.5" r="2.33"/><circle cx="839.5" cy="686.5" r="2.33"/><circle cx="839.5" cy="691.5" r="2.33"/><circle cx="839.5" cy="693.5" r="2.33"/><circle cx="839.5" cy="695.5" r="2.33"/><circle cx="840.5" cy="690.5" r="2.33"/><circle cx="840.5" cy="707.5" r="2.33"/><circle cx="841.5" cy="696.5" r="2.33"/><circle cx="842.5" cy="695.5" r="2.33"/><circle cx="843.5" cy="690.5" r="2.33"/><circle cx="844.5" cy="684.5" r="2.33"/><circle cx="844.5" cy="694.5" r="2.33"/><circle cx="844.5" cy="696.5" r="2.33"/><circle cx="845.5" cy="687.5" r="2.33"/><circle cx="845.5" cy="696.5" r="2.33"/><circle cx="845.5" cy="700.5" r="2.33"/><circle cx="846.5" cy="693.5" r="2.33"/><circle cx="847.5" cy="685.5" r="2.33"/><circle cx="847.5" cy="687.5" r="2.33"/><circle cx="847.5" cy="688.5" r="2.33"/><circle cx="847.5" cy="690.5" r="2.33"/><circle cx="847.5" cy="697.5" r="2.33"/><circle cx="848.5" cy="698.5" r="2.33"/><circle cx="849.5" cy="682.5" r="2.33"/><circle cx="850.5" cy="681.5" r="2.33"/><circle cx="850.5" cy="683.5" r="2.33"/><circle cx="852.5" cy="685.5" r="2.33"/><circle cx="852.5" cy="689.5" r="2.33"/><circle cx="853.5" cy="690.5" r="2.33"/><circle cx="853.5" cy="695.5" r="2.33"/><circle cx="854.5" cy="681.5" r="2.33"/><circle cx="854.5" cy="690.5" r="2.33"/><circle cx="855.5" cy="684.5" r="2.33"/><circle cx="855.5" cy="694.5" r="2.33"/><circle cx="856.5" cy="675.5" r="2.33"/><circle cx="856.5" cy="684.5" r="2.33"/><circle cx="856.5" cy="698.5" r="2.33"/><circle cx="857.5" cy="693.5" r="2.33"/><circle cx="858.5" cy="672.5" r="2.33"/><circle cx="858.5" cy="687.5" r="2.33"/><circle cx="859.5" cy="679.5" r="2.33"/><circle cx="859.5" cy="681.5" r="2.33"/><circle cx="859.5" cy="686.5" r="2.33"/><circle cx="859.5" cy="689.5" r="2.33"/><circle cx="859.5" cy="692.5" r="2.33"/><circle cx="860.5" cy="672.5" r="2.33"/><circle cx="860.5" cy="674.5" r="2.33"/><circle cx="860.5" cy="683.5" r="2.33"/><circle cx="861.5" cy="687.5" r="2.33"/><circle cx="862.5" cy="669.5" r="2.33"/><circle cx="862.5" cy="685.5" r="2.33"/><circle cx="863.5" cy="668.5" r="2.33"/><circle cx="863.5" cy="672.5" r="2.33"/><circle cx="863.5" cy="684.5" r="2.33"/><circle cx="864.5" cy="671.5" r="2.33"/><circle cx="864.5" cy="673.5" r="2.33"/><circle cx="864.5" cy="678.5" r="2.33"/><circle cx="865.5" cy="673.5" r="2.33"/><circle cx="865.5" cy="677.5" r="2.33"/><circle cx="866.5" cy="677.5" r="2.33"/><circle cx="866.5" cy="685.5" r="2.33"/><circle cx="867.5" cy="673.5" r="2.33"/><circle cx="867.5" cy="689.5" r="2.33"/><circle cx="868.5" cy="664.5" r="2.33"/><circle cx="868.5" cy="670.5" r="2.33"/><circle cx="868.5" cy="675.5" r="2.33"/><circle cx="868.5" cy="680.5" r="2.33"/><circle cx="869.5" cy="672.5" r="2.33"/><circle cx="869.5" cy="675.5" r="2.33"/><circle cx="869.5" cy="685.5" r="2.33"/><circle cx="870.5" cy="665.5" r="2.33"/><circle cx="870.5" cy="674.5" r="2.33"/><circle cx="871.5" cy="665.5" r="2.33"/><circle cx="871.5" cy="678.5" r="2.33"/><circle cx="871.5" cy="686.5" r="2.33"/><circle cx="872.5" cy="667.5" r="2.33"/><circle cx="873.5" cy="660.5" r="2.33"/><circle cx="877.5" cy="657.5" r="2.33"/><circle cx="877.5" cy="658.5" r="2.33"/><circle cx="879.5" cy="661.5" r="2.33"/><circle cx="882.5" cy="679.5" r="2.33"/><circle cx="885.5" cy="659.5" r="2.33"/><circle cx="886.5" cy="661.5" r="2.33"/><circle cx="888.5" cy="660.5" r="2.33"/><circle cx="888.5" cy="669.5" r="2.33"/><circle cx="890.5" cy="658.5" r="2.33"/><circle cx="891.5" cy="683.5" r="2.33"/><circle cx="893.5" cy="665.5" r="2.33"/><circle cx="894.5" cy="664.5" r="2.33"/><circle cx="898.5" cy="661.5" r="2.33"/><circle cx="905.5" cy="659.5" r="2.33"/><circle cx="906.5" cy="658.5" r="2.33"/>
</g>
<g fill="#808080" stroke="#808080" stroke-width="2.083" fill-opacity="0.190" stroke-opacity="0.190">
<circle cx="336.5" cy="685.5" r="2.33"/><circle cx="339.5" cy="667.5" r="2.33"/><circle cx="340.5" cy="668.5" r="2.33"/><circle cx="340.5" cy="680.5" r="2.33"/><circle cx="343.5" cy="670.5" r="2.33"/><circle cx="344.5" cy="670.5" r="2.33"/><circle cx="348.5" cy="674.5" r="2.33"/><circle cx="350.5" cy="675.5" r="2.33"/><circle cx="353.5" cy="677.5" r="2.33"/><circle cx="355.5" cy="679.5" r="2.33"/><circle cx="357.5" cy="681.5" r="2.33"/><circle cx="358.5" cy="681.5" r="2.33"/><circle cx="358.5" cy="692.5" r="2.33"/><circle cx="359.5" cy="681.5" r="2.33"/><circle cx="360.5" cy="682.5" r="2.33"/><circle cx="361.5" cy="684.5" r="2.33"/><circle cx="366.5" cy="689.5" r="2.33"/><circle cx="376.5" cy="701.5" r="2.33"/><circle cx="384.5" cy="707.5" r="2.33"/><circle cx="385.5" cy="700.5" r="2.33"/><circle cx="386.5" cy="707.5" r="2.33"/><circle cx="388.5" cy="708.5" r="2.33"/><circle cx="389.5" cy="710.5" r="2.33"/><circle cx="393.5" cy="705.5" r="2.33"/><circle cx="394.5" cy="707.5" r="2.33"/><circle cx="394.5" cy="713.5" r="2.33"/><circle cx="395.5" cy="707.5" r="2.33"/><circle cx="395.5" cy="713.5" r="2.33"/><circle cx="397.5" cy="706.5" r="2.33"/><circle cx="400.5" cy="712.5" r="2.33"/><circle cx="402.5" cy="714.5" r="2.33"/><circle cx="403.5" cy="712.5" r="2.33"/><circle cx="407.5" cy="725.5" r="2.33"/><circle cx="408.5" cy="719.5" r="2.33"/><circle cx="412.5" cy="717.5" r="2.33"/><circle cx="415.5" cy="718.5" r="2.33"/><circle cx="416.5" cy="719.5" r="2.33"/><circle cx="418.5" cy="721.5" r="2.33"/><circle cx="420.5" cy="722.5" r="2.33"/><circle cx="422.5" cy="722.5" r="2.33"/><circle cx="422.5" cy="725.5" r="2.33"/><circle cx="424.5" cy="724.5" r="2.33"/><circle cx="424.5" cy="728.5" r="2.33"/><circle cx="425.5" cy="727.5" r="2.33"/><circle cx="426.5" cy="725.5" r="2.33"/><circle cx="427.5" cy="727.5" r="2.33"/><circle cx="427.5" cy="728.5" r="2.33"/><circle cx="434.5" cy="730.5" r="2.33"/><circle cx="437.5" cy="730.5" r="2.33"/><circle cx="437.5" cy="731.5" r="2.33"/><circle cx="437.5" cy="733.5" r="2.33"/><circle cx="437.5" cy="734.5" r="2.33"/><circle cx="439.5" cy="731.5" r="2.33"/><circle cx="441.5" cy="731.5" r="2.33"/><circle cx="442.5" cy="732.5" r="2.33"/><circle cx="443.5" cy="737.5" r="2.33"/><circle cx="444.5" cy="735.5" r="2.33"/><circle cx="446.5" cy="735.5" r="2.33"/><circle cx="447.5" cy="734.5" r="2.33"/><circle cx="447.5" cy="738.5" r="2.33"/><circle cx="448.5" cy="739.5" r="2.33"/><circle cx="450.5" cy="737.5" r="2.33"/><circle cx="451.5" cy="736.5" r="2.33"/><circle cx="451.5" cy="738.5" r="2.33"/><circle cx="451.5" cy="740.5" r="2.33"/><circle cx="452.5" cy="741.5" r="2.33"/><circle cx="453.5" cy="738.5" r="2.33"/><circle cx="453.5" cy="742.5" r="2.33"/><circle cx="454.5" cy="737.5" r="2.33"/><circle cx="458.5" cy="739.5" r="2.33"/><circle cx="458.5" cy="742.5" r="2.33"/><circle cx="460.5" cy="742.5" r="2.33"/><circle cx="461.5" cy="740.5" r="2.33"/><circle cx="461.5" cy="742.5" r="2.33"/><circle cx="461.5" cy="743.5" r="2.33"/><circle cx="463.5" cy="741.5" r="2.33"/><circle cx="464.5" cy="745.5" r="2.33"/><circle cx="465.5" cy="743.5" r="2.33"/><circle cx="465.5" cy="745.5" r="2.33"/><circle cx="466.5" cy="742.5" r="2.33"/><circle cx="466.5" cy="747.5" r="2.33"/><circle cx="467.5" cy="743.5" r="2.33"/><circle cx="467.5" cy="746.5" r="2.33"/><circle cx="467.5" cy="747.5" r="2.33"/><circle cx="468.5" cy="747.5" r="2.33"/><circle cx="469.5" cy="745.5" r="2.33"/><circle cx="471.5" cy="748.5" r="2.33"/><circle cx="472.5" cy="744.5" r="2.33"/><circle cx="476.5" cy="749.5" r="2.33"/><circle cx="477.5" cy="746.5" r="2.33"/><circle cx="478.5" cy="751.5" r="2.33"/><circle cx="480.5" cy="749.5" r="2.33"/><circle cx="480.5" cy="750.5" r="2.33"/><circle cx="481.5" cy="749.5" r="2.33"/><circle cx="482.5" cy="751.5" r="2.33"/><circle cx="484.5" cy="750.5" r="2.33"/><circle cx="484.5" cy="753.5" r="2.33"/><circle cx="485.5" cy="751.5" r="2.33"/><circle cx="485.5" cy="752.5" r="2.33"/><circle cx="486.5" cy="750.5" r="2.33"/><circle cx="486.5" cy="753.5" r="2.33"/><circle cx="488.5" cy="751.5" r="2.33"/><circle cx="488.5" cy="753.5" r="2.33"/><circle cx="489.5" cy="753.5" r="2.33"/><circle cx="490.5" cy="753.5" r="2.33"/><circle cx="491.5" cy="752.5" r="2.33"/><circle cx="491.5" cy="754.5" r="2.33"/><circle cx="492.5" cy="753.5" r="2.33"/><circle cx="492.5" cy="755.5" r="2.33"/><circle cx="493.5" cy="754.5" r="2.33"/><circle cx="495.5" cy="755.5" r="2.33"/><circle cx="497.5" cy="757.5" r="2.33"/><circle cx="498.5" cy="754.5" r="2.33"/><circle cx="498.5" cy="756.5" r="2.33"/><circle cx="499.5" cy="754.5" r="2.33"/><circle cx="500.5" cy="757.5" r="2.33"/><circle cx="502.5" cy="756.5" r="2.33"/><circle cx="502.5" cy="757.5" r="2.33"/><circle cx="503.5" cy="759.5" r="2.33"/><circle cx="506.5" cy="757.5" r="2.33"/><circle cx="508.5" cy="758.5" r="2.33"/><circle cx="508.5" cy="759.5" r="2.33"/><circle cx="510.5" cy="758.5" r="2.33"/><circle cx="510.5" cy="760.5" r="2.33"/><circle cx="516.5" cy="761.5" r="2.33"/><circle cx="518.5" cy="761.5" r="2.33"/><circle cx="523.5" cy="762.5" r="2.33"/><circle cx="523.5" cy="763.5" r="2.33"/><circle cx="524.5" cy="763.5" r="2.33"/><circle cx="528.5" cy="765.5" r="2.33"/><circle cx="530.5" cy="765.5" r="2.33"/><circle cx="532.5" cy="766.5" r="2.33"/><circle cx="538.5" cy="767.5" r="2.33"/><circle cx="543.5" cy="767.5" r="2.33"/><circle cx="556.5" cy="771.5" r="2.33"/><circle cx="569.5" cy="773.5" r="2.33"/><circle cx="575.5" cy="774.5" r="2.33"/><circle cx="587.5" cy="776.5" r="2.33"/><circle cx="631.5" cy="774.5" r="2.33"/><circle cx="635.5" cy="773.5" r="2.33"/><circle cx="648.5" cy="771.5" r="2.33"/><circle cx="656.5" cy="769.5" r="2.33"/><circle cx="668.5" cy="766.5" r="2.33"/><circle cx="676.5" cy="764.5" r="2.33"/><circle cx="679.5" cy="764.5" r="2.33"/><circle cx="681.5" cy="762.5" r="2.33"/><circle cx="681.5" cy="763.5" r="2.33"/><circle cx="685.5" cy="762.5" r="2.33"/><circle cx="693.5" cy="760.5" r="2.33"/><circle cx="695.5" cy="759.5" r="2.33"/><circle cx="695.5" cy="760.5" r="2.33"/><circle cx="699.5" cy="757.5" r="2.33"/><circle cx="699.5" cy="758.5" r="2.33"/><circle cx="699.5" cy="759.5" r="2.33"/><circle cx="700.5" cy="759.5" r="2.33"/><circle cx="700.5" cy="760.5" r="2.33"/><circle cx="701.5" cy="758.5" r="2.33"/><circle cx="701.5" cy="759.5" r="2.33"/><circle cx="703.5" cy="757.5" r="2.33"/><circle cx="705.5" cy="757.5" r="2.33"/><circle cx="706.5" cy="755.5" r="2.33"/><circle cx="706.5" cy="756.5" r="2.33"/><circle cx="706.5" cy="757.5" r="2.33"/><circle cx="708.5" cy="757.5" r="2.33"/><circle cx="709.5" cy="754.5" r="2.33"/><circle cx="709.5" cy="755.5" r="2.33"/><circle cx="710.5" cy="754.5" r="2.33"/><circle cx="713.5" cy="752.5" r="2.33"/><circle cx="715.5" cy="753.5" r="2.33"/><circle cx="717.5" cy="752.5" r="2.33"/><circle cx="717.5" cy="753.5" r="2.33"/><circle cx="717.5" cy="754.5" r="2.33"/><circle cx="722.5" cy="750.5" r="2.33"/><circle cx="722.5" cy="752.5" r="2.33"/><circle cx="723.5" cy="748.5" r="2.33"/><circle cx="725.5" cy="749.5" r="2.33"/><circle cx="725.5" cy="751.5" r="2.33"/><circle cx="727.5" cy="748.5" r="2.33"/><circle cx="727.5" cy="752.5" r="2.33"/><circle cx="728.5" cy="746.5" r="2.33"/><circle cx="728.5" cy="748.5" r="2.33"/><circle cx="729.5" cy="746.5" r="2.33"/><circle cx="729.5" cy="747.5" r="2.33"/><circle cx="729.5" cy="749.5" r="2.33"/><circle cx="730.5" cy="747.5" r="2.33"/><circle cx="731.5" cy="745.5" r="2.33"/><circle cx="731.5" cy="747.5" r="2.33"/><circle cx="732.5" cy="745.5" r="2.33"/><circle cx="732.5" cy="746.5" r="2.33"/><circle cx="733.5" cy="744.5" r="2.33"/><circle cx="734.5" cy="745.5" r="2.33"/><circle cx="734.5" cy="748.5" r="2.33"/><circle cx="735.5" cy="744.5" r="2.33"/><circle cx="735.5" cy="745.5" r="2.33"/><circle cx="735.5" cy="748.5" r="2.33"/><circle cx="736.5" cy="746.5" r="2.33"/><circle cx="737.5" cy="744.5" r="2.33"/><circle cx="738.5" cy="744.5" r="2.33"/><circle cx="739.5" cy="742.5" r="2.33"/><circle cx="740.5" cy="747.5" r="2.33"/><circle cx="742.5" cy="741.5" r="2.33"/><circle cx="743.5" cy="741.5" r="2.33"/><circle cx="743.5" cy="742.5" r="2.33"/><circle cx="744.5" cy="741.5" r="2.33"/><circle cx="744.5" cy="742.5" r="2.33"/><circle cx="745.5" cy="739.5" r="2.33"/><circle cx="746.5" cy="741.5" r="2.33"/><circle cx="746.5" cy="744.5" r="2.33"/><circle cx="748.5" cy="738.5" r="2.33"/><circle cx="748.5" cy="739.5" r="2.33"/><circle cx="748.5" cy="740.5" r="2.33"/><circle cx="749.5" cy="742.5" r="2.33"/><circle cx="750.5" cy="739.5" r="2.33"/><circle cx="751.5" cy="739.5" r="2.33"/><circle cx="751.5" cy="740.5" r="2.33"/><circle cx="752.5" cy="738.5" r="2.33"/><circle cx="752.5" cy="739.5" r="2.33"/><circle cx="753.5" cy="739.5" r="2.33"/><circle cx="753.5" cy="740.5" r="2.33"/><circle cx="754.5" cy="739.5" r="2.33"/><circle cx="756.5" cy="740.5" r="2.33"/><circle cx="757.5" cy="735.5" r="2.33"/><circle cx="758.5" cy="734.5" r="2.33"/><circle cx="758.5" cy="735.5" r="2.33"/><circle cx="758.5" cy="736.5" r="2.33"/><circle cx="759.5" cy="734.5" r="2.33"/><circle cx="765.5" cy="732.5" r="2.33"/><circle cx="766.5" cy="734.5" r="2.33"/><circle cx="768.5" cy="732.5" r="2.33"/><circle cx="769.5" cy="734.5" r="2.33"/><circle cx="770.5" cy="729.5" r="2.33"/><circle cx="772.5" cy="728.5" r="2.33"/><circle cx="772.5" cy="733.5" r="2.33"/><circle cx="774.5" cy="728.5" r="2.33"/><circle cx="774.5" cy="729.5" r="2.33"/><circle cx="775.5" cy="726.5" r="2.33"/><circle cx="775.5" cy="728.5" r="2.33"/><circle cx="776.5" cy="727.5" r="2.33"/><circle cx="776.5" cy="732.5" r="2.33"/><circle cx="779.5" cy="725.5" r="2.33"/><circle cx="779.5" cy="727.5" r="2.33"/><circle cx="780.5" cy="723.5" r="2.33"/><circle cx="780.5" cy="732.5" r="2.33"/><circle cx="781.5" cy="726.5" r="2.33"/><circle cx="784.5" cy="725.5" r="2.33"/><circle cx="784.5" cy="730.5" r="2.33"/><circle cx="785.5" cy="721.5" r="2.33"/><circle cx="786.5" cy="723.5" r="2.33"/><circle cx="787.5" cy="726.5" r="2.33"/><circle cx="788.5" cy="720.5" r="2.33"/><circle cx="789.5" cy="720.5" r="2.33"/><circle cx="789.5" cy="725.5" r="2.33"/><circle cx="791.5" cy="719.5" r="2.33"/><circle cx="792.5" cy="721.5" r="2.33"/><circle cx="793.5" cy="718.5" r="2.33"/><circle cx="797.5" cy="722.5" r="2.33"/><circle cx="798.5" cy="718.5" r="2.33"/><circle cx="799.5" cy="713.5" r="2.33"/><circle cx="800.5" cy="714.5" r="2.33"/><circle cx="800.5" cy="717.5" r="2.33"/><circle cx="802.5" cy="718.5" r="2.33"/><circle cx="803.5" cy="711.5" r="2.33"/><circle cx="806.5" cy="711.5" r="2.33"/><circle cx="807.5" cy="709.5" r="2.33"/><circle cx="808.5" cy="710.5" r="2.33"/><circle cx="811.5" cy="713.5" r="2.33"/><circle cx="817.5" cy="702.5" r="2.33"/><circle cx="821.5" cy="709.5" r="2.33"/><circle cx="822.5" cy="709.5" r="2.33"/><circle cx="824.5" cy="704.5" r="2.33"/><circle cx="826.5" cy="695.5" r="2.33"/><circle cx="826.5" cy="709.5" r="2.33"/><circle cx="830.5" cy="704.5" r="2.33"/><circle cx="831.5" cy="693.5" r="2.33"/><circle cx="834.5" cy="691.5" r="2.33"/><circle cx="835.5" cy="690.5" r="2.33"/><circle cx="837.5" cy="696.5" r="2.33"/><circle cx="840.5" cy="699.5" r="2.33"/><circle cx="841.5" cy="686.5" r="2.33"/><circle cx="842.5" cy="684.5" r="2.33"/><circle cx="846.5" cy="681.5" r="2.33"/><circle cx="847.5" cy="683.5" r="2.33"/><circle cx="852.5" cy="678.5" r="2.33"/><circle cx="853.5" cy="679.5" r="2.33"/><circle cx="853.5" cy="683.5" r="2.33"/><circle cx="855.5" cy="692.5" r="2.33"/><circle cx="856.5" cy="686.5" r="2.33"/><circle cx="857.5" cy="673.5" r="2.33"/><circle cx="857.5" cy="674.5" r="2.33"/><circle cx="865.5" cy="670.5" r="2.33"/><circle cx="866.5" cy="669.5" r="2.33"/><circle cx="867.5" cy="666.5" r="2.33"/><circle cx="869.5" cy="680.5" r="2.33"/><circle cx="871.5" cy="663.5" r="2.33"/><circle cx="872.5" cy="662.5" r="2.33"/>
</g>
<g fill="#808080" stroke="#808080" stroke-width="2.083" fill-opacity="0.271" stroke-opacity="0.271">
<circle cx="329.5" cy="658.5" r="2.33"/><circle cx="330.5" cy="659.5" r="2.33"/><circle cx="338.5" cy="666.5" r="2.33"/><circle cx="342.5" cy="669.5" r="2.33"/><circle cx="344.5" cy="671.5" r="2.33"/><circle cx="352.5" cy="676.5" r="2.33"/><circle cx="352.5" cy="677.5" r="2.33"/><circle cx="364.5" cy="686.5" r="2.33"/><circle cx="376.5" cy="693.5" r="2.33"/><circle cx="382.5" cy="697.5" r="2.33"/><circle cx="390.5" cy="703.5" r="2.33"/><circle cx="392.5" cy="703.5" r="2.33"/><circle cx="419.5" cy="725.5" r="2.33"/><circle cx="423.5" cy="725.5" r="2.33"/><circle cx="426.5" cy="728.5" r="2.33"/><circle cx="427.5" cy="732.5" r="2.33"/><circle cx="429.5" cy="726.5" r="2.33"/><circle cx="432.5" cy="725.5" r="2.33"/><circle cx="438.5" cy="731.5" r="2.33"/><circle cx="444.5" cy="733.5" r="2.33"/><circle cx="447.5" cy="735.5" r="2.33"/><circle cx="453.5" cy="740.5" r="2.33"/><circle cx="455.5" cy="740.5" r="2.33"/><circle cx="456.5" cy="742.5" r="2.33"/><circle cx="457.5" cy="740.5" r="2.33"/><circle cx="459.5" cy="741.5" r="2.33"/><circle cx="460.5" cy="741.5" r="2.33"/><circle cx="463.5" cy="744.5" r="2.33"/><circle cx="464.5" cy="741.5" r="2.33"/><circle cx="464.5" cy="742.5" r="2.33"/><circle cx="464.5" cy="743.5" r="2.33"/><circle cx="465.5" cy="744.5" r="2.33"/><circle cx="467.5" cy="742.5" r="2.33"/><circle cx="468.5" cy="744.5" r="2.33"/><circle cx="469.5" cy="743.5" r="2.33"/><circle cx="471.5" cy="745.5" r="2.33"/><circle cx="472.5" cy="745.5" r="2.33"/><circle cx="473.5" cy="746.5" r="2.33"/><circle cx="476.5" cy="747.5" r="2.33"/><circle cx="478.5" cy="749.5" r="2.33"/><circle cx="479.5" cy="747.5" r="2.33"/><circle cx="480.5" cy="747.5" r="2.33"/><circle cx="480.5" cy="751.5" r="2.33"/><circle cx="481.5" cy="750.5" r="2.33"/><circle cx="482.5" cy="748.5" r="2.33"/><circle cx="484.5" cy="749.5" r="2.33"/><circle cx="485.5" cy="750.5" r="2.33"/><circle cx="487.5" cy="751.5" r="2.33"/><circle cx="488.5" cy="750.5" r="2.33"/><circle cx="488.5" cy="754.5" r="2.33"/><circle cx="489.5" cy="751.5" r="2.33"/><circle cx="490.5" cy="752.5" r="2.33"/><circle cx="493.5" cy="752.5" r="2.33"/><circle cx="496.5" cy="754.5" r="2.33"/><circle cx="496.5" cy="755.5" r="2.33"/><circle cx="497.5" cy="753.5" r="2.33"/><circle cx="497.5" cy="755.5" r="2.33"/><circle cx="497.5" cy="756.5" r="2.33"/><circle cx="498.5" cy="752.5" r="2.33"/><circle cx="501.5" cy="758.5" r="2.33"/><circle cx="503.5" cy="757.5" r="2.33"/><circle cx="503.5" cy="758.5" r="2.33"/><circle cx="505.5" cy="756.5" r="2.33"/><circle cx="506.5" cy="756.5" r="2.33"/><circle cx="506.5" cy="758.5" r="2.33"/><circle cx="506.5" cy="759.5" r="2.33"/><circle cx="508.5" cy="757.5" r="2.33"/><circle cx="509.5" cy="758.5" r="2.33"/><circle cx="510.5" cy="759.5" r="2.33"/><circle cx="511.5" cy="760.5" r="2.33"/><circle cx="515.5" cy="760.5" r="2.33"/><circle cx="516.5" cy="759.5" r="2.33"/><circle cx="519.5" cy="760.5" r="2.33"/><circle cx="520.5" cy="761.5" r="2.33"/><circle cx="521.5" cy="762.5" r="2.33"/><circle cx="521.5" cy="763.5" r="2.33"/><circle cx="526.5" cy="764.5" r="2.33"/><circle cx="527.5" cy="763.5" r="2.33"/><circle cx="529.5" cy="763.5" r="2.33"/><circle cx="530.5" cy="764.5" r="2.33"/><circle cx="532.5" cy="765.5" r="2.33"/><circle cx="534.5" cy="765.5" r="2.33"/><circle cx="536.5" cy="765.5" r="2.33"/><circle cx="546.5" cy="768.5" r="2.33"/><circle cx="548.5" cy="769.5" r="2.33"/><circle cx="549.5" cy="769.5" r="2.33"/><circle cx="554.5" cy="770.5" r="2.33"/><circle cx="581.5" cy="775.5" r="2.33"/><circle cx="595.5" cy="776.5" r="2.33"/><circle cx="628.5" cy="774.5" r="2.33"/><circle cx="641.5" cy="772.5" r="2.33"/><circle cx="645.5" cy="771.5" r="2.33"/><circle cx="660.5" cy="768.5" r="2.33"/><circle cx="663.5" cy="767.5" r="2.33"/><circle cx="666.5" cy="766.5" r="2.33"/><circle cx="666.5" cy="767.5" r="2.33"/><circle cx="672.5" cy="765.5" r="2.33"/><circle cx="682.5" cy="762.5" r="2.33"/><circle cx="682.5" cy="763.5" r="2.33"/><circle cx="683.5" cy="762.5" r="2.33"/><circle cx="684.5" cy="762.5" r="2.33"/><circle cx="686.5" cy="760.5" r="2.33"/><circle cx="688.5" cy="761.5" r="2.33"/><circle cx="690.5" cy="760.5" r="2.33"/><circle cx="691.5" cy="760.5" r="2.33"/><circle cx="692.5" cy="760.5" r="2.33"/><circle cx="696.5" cy="757.5" r="2.33"/><circle cx="696.5" cy="759.5" r="2.33"/><circle cx="697.5" cy="758.5" r="2.33"/><circle cx="700.5" cy="757.5" r="2.33"/><circle cx="702.5" cy="755.5" r="2.33"/><circle cx="703.5" cy="755.5" r="2.33"/><circle cx="705.5" cy="754.5" r="2.33"/><circle cx="705.5" cy="755.5" r="2.33"/><circle cx="708.5" cy="753.5" r="2.33"/><circle cx="708.5" cy="755.5" r="2.33"/><circle cx="708.5" cy="756.5" r="2.33"/><circle cx="710.5" cy="753.5" r="2.33"/><circle cx="710.5" cy="755.5" r="2.33"/><circle cx="711.5" cy="754.5" r="2.33"/><circle cx="712.5" cy="753.5" r="2.33"/><circle cx="714.5" cy="753.5" r="2.33"/><circle cx="718.5" cy="750.5" r="2.33"/><circle cx="719.5" cy="751.5" r="2.33"/><circle cx="720.5" cy="749.5" r="2.33"/><circle cx="720.5" cy="750.5" r="2.33"/><circle cx="720.5" cy="751.5" r="2.33"/><circle cx="724.5" cy="748.5" r="2.33"/><circle cx="724.5" cy="750.5" r="2.33"/><circle cx="725.5" cy="748.5" r="2.33"/><circle cx="727.5" cy="747.5" r="2.33"/><circle cx="730.5" cy="746.5" r="2.33"/><circle cx="733.5" cy="746.5" r="2.33"/><circle cx="734.5" cy="746.5" r="2.33"/><circle cx="736.5" cy="744.5" r="2.33"/><circle cx="737.5" cy="747.5" r="2.33"/><circle cx="738.5" cy="742.5" r="2.33"/><circle cx="738.5" cy="743.5" r="2.33"/><circle cx="738.5" cy="745.5" r="2.33"/><circle cx="740.5" cy="742.5" r="2.33"/><circle cx="740.5" cy="743.5" r="2.33"/><circle cx="741.5" cy="741.5" r="2.33"/><circle cx="741.5" cy="744.5" r="2.33"/><circle cx="747.5" cy="741.5" r="2.33"/><circle cx="749.5" cy="739.5" r="2.33"/><circle cx="753.5" cy="741.5" r="2.33"/><circle cx="759.5" cy="738.5" r="2.33"/><circle cx="762.5" cy="737.5" r="2.33"/><circle cx="768.5" cy="730.5" r="2.33"/><circle cx="777.5" cy="725.5" r="2.33"/><circle cx="784.5" cy="724.5" r="2.33"/><circle cx="790.5" cy="723.5" r="2.33"/><circle cx="805.5" cy="713.5" r="2.33"/><circle cx="807.5" cy="708.5" r="2.33"/><circle cx="813.5" cy="705.5" r="2.33"/><circle cx="813.5" cy="709.5" r="2.33"/><circle cx="834.5" cy="700.5" r="2.33"/><circle cx="845.5" cy="682.5" r="2.33"/><circle cx="857.5" cy="681.5" r="2.33"/><circle cx="866.5" cy="666.5" r="2.33"/><circle cx="867.5" cy="665.5" r="2.33"/>
</g>
<g fill="#808080" stroke="#808080" stroke-width="2.083" fill-opacity="0.344" stroke-opacity="0.344">
<circle cx="328.5" cy="657.5" r="2.33"/><circle cx="333.5" cy="661.5" r="2.33"/><circle cx="335.5" cy="663.5" r="2.33"/><circle cx="336.5" cy="664.5" r="2.33"/><circle cx="341.5" cy="668.5" r="2.33"/><circle cx="345.5" cy="671.5" r="2.33"/><circle cx="347.5" cy="673.5" r="2.33"/><circle cx="349.5" cy="674.5" r="2.33"/><circle cx="366.5" cy="687.5" r="2.33"/><circle cx="367.5" cy="687.5" r="2.33"/><circle cx="368.5" cy="688.5" r="2.33"/><circle cx="369.5" cy="689.5" r="2.33"/><circle cx="370.5" cy="690.5" r="2.33"/><circle cx="373.5" cy="691.5" r="2.33"/><circle cx="379.5" cy="695.5" r="2.33"/><circle cx="384.5" cy="698.5" r="2.33"/><circle cx="395.5" cy="706.5" r="2.33"/><circle cx="398.5" cy="708.5" r="2.33"/><circle cx="400.5" cy="709.5" r="2.33"/><circle cx="405.5" cy="712.5" r="2.33"/><circle cx="444.5" cy="732.5" r="2.33"/><circle cx="462.5" cy="740.5" r="2.33"/><circle cx="479.5" cy="750.5" r="2.33"/><circle cx="483.5" cy="749.5" r="2.33"/><circle cx="494.5" cy="752.5" r="2.33"/><circle cx="494.5" cy="754.5" r="2.33"/><circle cx="496.5" cy="753.5" r="2.33"/><circle cx="497.5" cy="754.5" r="2.33"/><circle cx="500.5" cy="754.5" r="2.33"/><circle cx="503.5" cy="755.5" r="2.33"/><circle cx="503.5" cy="756.5" r="2.33"/><circle cx="504.5" cy="756.5" r="2.33"/><circle cx="505.5" cy="757.5" r="2.33"/><circle cx="507.5" cy="757.5" r="2.33"/><circle cx="509.5" cy="757.5" r="2.33"/><circle cx="509.5" cy="759.5" r="2.33"/><circle cx="513.5" cy="759.5" r="2.33"/><circle cx="514.5" cy="760.5" r="2.33"/><circle cx="521.5" cy="761.5" r="2.33"/><circle cx="522.5" cy="761.5" r="2.33"/><circle cx="522.5" cy="762.5" r="2.33"/><circle cx="525.5" cy="763.5" r="2.33"/><circle cx="526.5" cy="763.5" r="2.33"/><circle cx="531.5" cy="764.5" r="2.33"/><circle cx="533.5" cy="764.5" r="2.33"/><circle cx="536.5" cy="766.5" r="2.33"/><circle cx="538.5" cy="766.5" r="2.33"/><circle cx="545.5" cy="768.5" r="2.33"/><circle cx="555.5" cy="770.5" r="2.33"/><circle cx="560.5" cy="771.5" r="2.33"/><circle cx="576.5" cy="774.5" r="2.33"/><circle cx="610.5" cy="776.5" r="2.33"/><circle cx="624.5" cy="775.5" r="2.33"/><circle cx="657.5" cy="769.5" r="2.33"/><circle cx="658.5" cy="768.5" r="2.33"/><circle cx="665.5" cy="766.5" r="2.33"/><circle cx="669.5" cy="765.5" r="2.33"/><circle cx="671.5" cy="765.5" r="2.33"/><circle cx="684.5" cy="761.5" r="2.33"/><circle cx="686.5" cy="762.5" r="2.33"/><circle cx="690.5" cy="759.5" r="2.33"/><circle cx="694.5" cy="759.5" r="2.33"/><circle cx="695.5" cy="758.5" r="2.33"/><circle cx="700.5" cy="756.5" r="2.33"/><circle cx="700.5" cy="758.5" r="2.33"/><circle cx="701.5" cy="756.5" r="2.33"/><circle cx="702.5" cy="757.5" r="2.33"/><circle cx="704.5" cy="756.5" r="2.33"/><circle cx="705.5" cy="756.5" r="2.33"/><circle cx="711.5" cy="753.5" r="2.33"/><circle cx="713.5" cy="754.5" r="2.33"/><circle cx="717.5" cy="751.5" r="2.33"/><circle cx="721.5" cy="749.5" r="2.33"/><circle cx="726.5" cy="747.5" r="2.33"/><circle cx="752.5" cy="736.5" r="2.33"/><circle cx="761.5" cy="735.5" r="2.33"/><circle cx="771.5" cy="732.5" r="2.33"/><circle cx="772.5" cy="729.5" r="2.33"/><circle cx="794.5" cy="714.5" r="2.33"/><circle cx="808.5" cy="706.5" r="2.33"/><circle cx="853.5" cy="677.5" r="2.33"/><circle cx="859.5" cy="672.5" r="2.33"/><circle cx="866.5" cy="667.5" r="2.33"/><circle cx="872.5" cy="661.5" r="2.33"/><circle cx="874.5" cy="659.5" r="2.33"/>
</g>
<g fill="#808080" stroke="#808080" stroke-width="2.083" fill-opacity="0.410" stroke-opacity="0.410">
<circle cx="340.5" cy="667.5" r="2.33"/><circle cx="346.5" cy="672.5" r="2.33"/><circle cx="356.5" cy="680.5" r="2.33"/><circle cx="364.5" cy="685.5" r="2.33"/><circle cx="370.5" cy="689.5" r="2.33"/><circle cx="382.5" cy="698.5" r="2.33"/><circle cx="400.5" cy="708.5" r="2.33"/><circle cx="422.5" cy="720.5" r="2.33"/><circle cx="454.5" cy="738.5" r="2.33"/><circle cx="459.5" cy="740.5" r="2.33"/><circle cx="485.5" cy="749.5" r="2.33"/><circle cx="487.5" cy="750.5" r="2.33"/><circle cx="490.5" cy="751.5" r="2.33"/><circle cx="491.5" cy="751.5" r="2.33"/><circle cx="498.5" cy="755.5" r="2.33"/><circle cx="499.5" cy="756.5" r="2.33"/><circle cx="502.5" cy="755.5" r="2.33"/><circle cx="504.5" cy="758.5" r="2.33"/><circle cx="507.5" cy="758.5" r="2.33"/><circle cx="512.5" cy="759.5" r="2.33"/><circle cx="515.5" cy="759.5" r="2.33"/><circle cx="519.5" cy="761.5" r="2.33"/><circle cx="526.5" cy="762.5" r="2.33"/><circle cx="532.5" cy="764.5" r="2.33"/><circle cx="540.5" cy="767.5" r="2.33"/><circle cx="541.5" cy="767.5" r="2.33"/><circle cx="556.5" cy="770.5" r="2.33"/><circle cx="571.5" cy="773.5" r="2.33"/><circle cx="640.5" cy="772.5" r="2.33"/><circle cx="647.5" cy="770.5" r="2.33"/><circle cx="661.5" cy="767.5" r="2.33"/><circle cx="665.5" cy="767.5" r="2.33"/><circle cx="667.5" cy="766.5" r="2.33"/><circle cx="669.5" cy="766.5" r="2.33"/><circle cx="675.5" cy="764.5" r="2.33"/><circle cx="680.5" cy="763.5" r="2.33"/><circle cx="685.5" cy="761.5" r="2.33"/><circle cx="687.5" cy="760.5" r="2.33"/><circle cx="693.5" cy="758.5" r="2.33"/><circle cx="694.5" cy="758.5" r="2.33"/><circle cx="703.5" cy="756.5" r="2.33"/><circle cx="706.5" cy="754.5" r="2.33"/><circle cx="707.5" cy="754.5" r="2.33"/><circle cx="707.5" cy="755.5" r="2.33"/><circle cx="709.5" cy="753.5" r="2.33"/><circle cx="712.5" cy="752.5" r="2.33"/><circle cx="714.5" cy="751.5" r="2.33"/><circle cx="716.5" cy="751.5" r="2.33"/><circle cx="746.5" cy="740.5" r="2.33"/><circle cx="755.5" cy="735.5" r="2.33"/><circle cx="805.5" cy="709.5" r="2.33"/><circle cx="848.5" cy="681.5" r="2.33"/><circle cx="849.5" cy="679.5" r="2.33"/><circle cx="861.5" cy="671.5" r="2.33"/><circle cx="863.5" cy="669.5" r="2.33"/><circle cx="874.5" cy="660.5" r="2.33"/>
</g>
<g fill="#808080" stroke="#808080" stroke-width="2.083" fill-opacity="0.469" stroke-opacity="0.469">
<circle cx="331.5" cy="660.5" r="2.33"/><circle cx="332.5" cy="661.5" r="2.33"/><circle cx="334.5" cy="662.5" r="2.33"/><circle cx="337.5" cy="665.5" r="2.33"/><circle cx="339.5" cy="666.5" r="2.33"/><circle cx="348.5" cy="673.5" r="2.33"/><circle cx="361.5" cy="683.5" r="2.33"/><circle cx="363.5" cy="685.5" r="2.33"/><circle cx="367.5" cy="688.5" r="2.33"/><circle cx="409.5" cy="713.5" r="2.33"/><circle cx="424.5" cy="721.5" r="2.33"/><circle cx="434.5" cy="726.5" r="2.33"/><circle cx="442.5" cy="731.5" r="2.33"/><circle cx="453.5" cy="736.5" r="2.33"/><circle cx="460.5" cy="739.5" r="2.33"/><circle cx="500.5" cy="755.5" r="2.33"/><circle cx="501.5" cy="755.5" r="2.33"/><circle cx="504.5" cy="757.5" r="2.33"/><circle cx="512.5" cy="758.5" r="2.33"/><circle cx="517.5" cy="760.5" r="2.33"/><circle cx="518.5" cy="760.5" r="2.33"/><circle cx="525.5" cy="762.5" r="2.33"/><circle cx="528.5" cy="763.5" r="2.33"/><circle cx="528.5" cy="764.5" r="2.33"/><circle cx="535.5" cy="765.5" r="2.33"/><circle cx="535.5" cy="766.5" r="2.33"/><circle cx="542.5" cy="767.5" r="2.33"/><circle cx="565.5" cy="772.5" r="2.33"/><circle cx="594.5" cy="777.5" r="2.33"/><circle cx="604.5" cy="777.5" r="2.33"/><circle cx="629.5" cy="774.5" r="2.33"/><circle cx="655.5" cy="769.5" r="2.33"/><circle cx="656.5" cy="768.5" r="2.33"/><circle cx="673.5" cy="765.5" r="2.33"/><circle cx="679.5" cy="763.5" r="2.33"/><circle cx="680.5" cy="762.5" r="2.33"/><circle cx="687.5" cy="761.5" r="2.33"/><circle cx="688.5" cy="760.5" r="2.33"/><circle cx="689.5" cy="759.5" r="2.33"/><circle cx="689.5" cy="760.5" r="2.33"/><circle cx="691.5" cy="759.5" r="2.33"/><circle cx="692.5" cy="759.5" r="2.33"/><circle cx="696.5" cy="758.5" r="2.33"/><circle cx="698.5" cy="757.5" r="2.33"/><circle cx="699.5" cy="756.5" r="2.33"/><circle cx="701.5" cy="754.5" r="2.33"/><circle cx="715.5" cy="751.5" r="2.33"/><circle cx="716.5" cy="752.5" r="2.33"/><circle cx="721.5" cy="751.5" r="2.33"/><circle cx="722.5" cy="749.5" r="2.33"/><circle cx="734.5" cy="744.5" r="2.33"/><circle cx="741.5" cy="742.5" r="2.33"/><circle cx="783.5" cy="720.5" r="2.33"/><circle cx="791.5" cy="717.5" r="2.33"/><circle cx="800.5" cy="712.5" r="2.33"/><circle cx="803.5" cy="709.5" r="2.33"/><circle cx="813.5" cy="703.5" r="2.33"/><circle cx="820.5" cy="700.5" r="2.33"/><circle cx="829.5" cy="693.5" r="2.33"/><circle cx="836.5" cy="689.5" r="2.33"/><circle cx="843.5" cy="684.5" r="2.33"/><circle cx="848.5" cy="680.5" r="2.33"/><circle cx="853.5" cy="676.5" r="2.33"/><circle cx="861.5" cy="670.5" r="2.33"/><circle cx="870.5" cy="663.5" r="2.33"/>
</g>
<g fill="#808080" stroke="#808080" stroke-width="2.083" fill-opacity="0.522" stroke-opacity="0.522">
<circle cx="357.5" cy="680.5" r="2.33"/><circle cx="359.5" cy="682.5" r="2.33"/><circle cx="362.5" cy="684.5" r="2.33"/><circle cx="365.5" cy="686.5" r="2.33"/><circle cx="374.5" cy="692.5" r="2.33"/><circle cx="392.5" cy="704.5" r="2.33"/><circle cx="395.5" cy="705.5" r="2.33"/><circle cx="402.5" cy="709.5" r="2.33"/><circle cx="407.5" cy="713.5" r="2.33"/><circle cx="414.5" cy="717.5" r="2.33"/><circle cx="416.5" cy="718.5" r="2.33"/><circle cx="418.5" cy="719.5" r="2.33"/><circle cx="426.5" cy="722.5" r="2.33"/><circle cx="428.5" cy="723.5" r="2.33"/><circle cx="447.5" cy="732.5" r="2.33"/><circle cx="511.5" cy="758.5" r="2.33"/><circle cx="529.5" cy="764.5" r="2.33"/><circle cx="537.5" cy="765.5" r="2.33"/><circle cx="551.5" cy="769.5" r="2.33"/><circle cx="557.5" cy="770.5" r="2.33"/><circle cx="582.5" cy="775.5" r="2.33"/><circle cx="644.5" cy="771.5" r="2.33"/><circle cx="650.5" cy="770.5" r="2.33"/><circle cx="664.5" cy="767.5" r="2.33"/><circle cx="670.5" cy="765.5" r="2.33"/><circle cx="675.5" cy="763.5" r="2.33"/><circle cx="676.5" cy="763.5" r="2.33"/><circle cx="683.5" cy="761.5" r="2.33"/><circle cx="704.5" cy="755.5" r="2.33"/><circle cx="711.5" cy="752.5" r="2.33"/><circle cx="717.5" cy="750.5" r="2.33"/><circle cx="722.5" cy="748.5" r="2.33"/><circle cx="810.5" cy="705.5" r="2.33"/><circle cx="812.5" cy="704.5" r="2.33"/><circle cx="818.5" cy="700.5" r="2.33"/><circle cx="829.5" cy="694.5" r="2.33"/><circle cx="838.5" cy="688.5" r="2.33"/><circle cx="845.5" cy="683.5" r="2.33"/><circle cx="855.5" cy="675.5" r="2.33"/><circle cx="856.5" cy="674.5" r="2.33"/><circle cx="865.5" cy="667.5" r="2.33"/><circle cx="876.5" cy="658.5" r="2.33"/>
</g>
<g fill="#808080" stroke="#808080" stroke-width="2.083" fill-opacity="0.570" stroke-opacity="0.570">
<circle cx="376.5" cy="694.5" r="2.33"/><circle cx="379.5" cy="696.5" r="2.33"/><circle cx="407.5" cy="712.5" r="2.33"/><circle cx="409.5" cy="714.5" r="2.33"/><circle cx="430.5" cy="724.5" r="2.33"/><circle cx="468.5" cy="741.5" r="2.33"/><circle cx="483.5" cy="748.5" r="2.33"/><circle cx="514.5" cy="759.5" r="2.33"/><circle cx="530.5" cy="763.5" r="2.33"/><circle cx="533.5" cy="765.5" r="2.33"/><circle cx="539.5" cy="766.5" r="2.33"/><circle cx="540.5" cy="766.5" r="2.33"/><circle cx="547.5" cy="768.5" r="2.33"/><circle cx="549.5" cy="768.5" r="2.33"/><circle cx="552.5" cy="769.5" r="2.33"/><circle cx="577.5" cy="774.5" r="2.33"/><circle cx="617.5" cy="776.5" r="2.33"/><circle cx="649.5" cy="770.5" r="2.33"/><circle cx="654.5" cy="769.5" r="2.33"/><circle cx="668.5" cy="765.5" r="2.33"/><circle cx="677.5" cy="763.5" r="2.33"/><circle cx="678.5" cy="763.5" r="2.33"/><circle cx="704.5" cy="753.5" r="2.33"/><circle cx="707.5" cy="752.5" r="2.33"/><circle cx="730.5" cy="745.5" r="2.33"/><circle cx="758.5" cy="732.5" r="2.33"/><circle cx="798.5" cy="713.5" r="2.33"/><circle cx="832.5" cy="691.5" r="2.33"/><circle cx="846.5" cy="682.5" r="2.33"/><circle cx="847.5" cy="681.5" r="2.33"/><circle cx="864.5" cy="668.5" r="2.33"/><circle cx="871.5" cy="662.5" r="2.33"/>
</g>
<g fill="#808080" stroke="#808080" stroke-width="2.083" fill-opacity="0.613" stroke-opacity="0.613">
<circle cx="373.5" cy="692.5" r="2.33"/><circle cx="380.5" cy="696.5" r="2.33"/><circle cx="384.5" cy="699.5" r="2.33"/><circle cx="393.5" cy="704.5" r="2.33"/><circle cx="418.5" cy="718.5" r="2.33"/><circle cx="436.5" cy="727.5" r="2.33"/><circle cx="449.5" cy="733.5" r="2.33"/><circle cx="495.5" cy="751.5" r="2.33"/><circle cx="524.5" cy="762.5" r="2.33"/><circle cx="561.5" cy="771.5" r="2.33"/><circle cx="611.5" cy="777.5" r="2.33"/><circle cx="660.5" cy="767.5" r="2.33"/><circle cx="672.5" cy="764.5" r="2.33"/><circle cx="674.5" cy="764.5" r="2.33"/><circle cx="697.5" cy="757.5" r="2.33"/><circle cx="763.5" cy="731.5" r="2.33"/><circle cx="771.5" cy="726.5" r="2.33"/><circle cx="777.5" cy="723.5" r="2.33"/><circle cx="781.5" cy="721.5" r="2.33"/><circle cx="810.5" cy="706.5" r="2.33"/><circle cx="828.5" cy="694.5" r="2.33"/><circle cx="854.5" cy="676.5" r="2.33"/><circle cx="869.5" cy="664.5" r="2.33"/><circle cx="873.5" cy="661.5" r="2.33"/><circle cx="875.5" cy="659.5" r="2.33"/>
</g>
<g fill="#808080" stroke="#808080" stroke-width="2.083" fill-opacity="0.651" stroke-opacity="0.651">
<circle cx="351.5" cy="676.5" r="2.33"/><circle cx="377.5" cy="694.5" r="2.33"/><circle cx="385.5" cy="699.5" r="2.33"/><circle cx="387.5" cy="701.5" r="2.33"/><circle cx="402.5" cy="710.5" r="2.33"/><circle cx="420.5" cy="719.5" r="2.33"/><circle cx="475.5" cy="745.5" r="2.33"/><circle cx="481.5" cy="746.5" r="2.33"/><circle cx="541.5" cy="766.5" r="2.33"/><circle cx="553.5" cy="769.5" r="2.33"/><circle cx="623.5" cy="775.5" r="2.33"/><circle cx="634.5" cy="773.5" r="2.33"/><circle cx="648.5" cy="770.5" r="2.33"/><circle cx="657.5" cy="768.5" r="2.33"/><circle cx="659.5" cy="768.5" r="2.33"/><circle cx="662.5" cy="767.5" r="2.33"/><circle cx="737.5" cy="741.5" r="2.33"/><circle cx="775.5" cy="724.5" r="2.33"/><circle cx="787.5" cy="718.5" r="2.33"/><circle cx="796.5" cy="713.5" r="2.33"/><circle cx="823.5" cy="698.5" r="2.33"/><circle cx="824.5" cy="697.5" r="2.33"/><circle cx="826.5" cy="696.5" r="2.33"/><circle cx="835.5" cy="689.5" r="2.33"/><circle cx="838.5" cy="687.5" r="2.33"/><circle cx="850.5" cy="679.5" r="2.33"/><circle cx="851.5" cy="678.5" r="2.33"/><circle cx="858.5" cy="673.5" r="2.33"/><circle cx="862.5" cy="670.5" r="2.33"/>
</g>
<g fill="#808080" stroke="#808080" stroke-width="2.083" fill-opacity="0.686" stroke-opacity="0.686">
<circle cx="390.5" cy="702.5" r="2.33"/><circle cx="397.5" cy="707.5" r="2.33"/><circle cx="420.5" cy="720.5" r="2.33"/><circle cx="440.5" cy="730.5" r="2.33"/><circle cx="470.5" cy="743.5" r="2.33"/><circle cx="544.5" cy="767.5" r="2.33"/><circle cx="548.5" cy="768.5" r="2.33"/><circle cx="639.5" cy="772.5" r="2.33"/><circle cx="653.5" cy="769.5" r="2.33"/><circle cx="713.5" cy="750.5" r="2.33"/><circle cx="724.5" cy="746.5" r="2.33"/><circle cx="740.5" cy="741.5" r="2.33"/><circle cx="749.5" cy="736.5" r="2.33"/><circle cx="779.5" cy="722.5" r="2.33"/><circle cx="787.5" cy="719.5" r="2.33"/><circle cx="815.5" cy="702.5" r="2.33"/><circle cx="815.5" cy="703.5" r="2.33"/><circle cx="832.5" cy="692.5" r="2.33"/><circle cx="833.5" cy="691.5" r="2.33"/><circle cx="839.5" cy="687.5" r="2.33"/><circle cx="842.5" cy="685.5" r="2.33"/><circle cx="844.5" cy="683.5" r="2.33"/><circle cx="868.5" cy="665.5" r="2.33"/>
</g>
<g fill="#808080" stroke="#808080" stroke-width="2.083" fill-opacity="0.718" stroke-opacity="0.718">
<circle cx="381.5" cy="697.5" r="2.33"/><circle cx="383.5" cy="698.5" r="2.33"/><circle cx="386.5" cy="700.5" r="2.33"/><circle cx="388.5" cy="701.5" r="2.33"/><circle cx="399.5" cy="708.5" r="2.33"/><circle cx="405.5" cy="711.5" r="2.33"/><circle cx="412.5" cy="715.5" r="2.33"/><circle cx="416.5" cy="717.5" r="2.33"/><circle cx="465.5" cy="741.5" r="2.33"/><circle cx="492.5" cy="750.5" r="2.33"/><circle cx="545.5" cy="767.5" r="2.33"/><circle cx="558.5" cy="770.5" r="2.33"/><circle cx="567.5" cy="772.5" r="2.33"/><circle cx="588.5" cy="776.5" r="2.33"/><circle cx="643.5" cy="771.5" r="2.33"/><circle cx="679.5" cy="762.5" r="2.33"/><circle cx="773.5" cy="725.5" r="2.33"/><circle cx="819.5" cy="700.5" r="2.33"/><circle cx="849.5" cy="680.5" r="2.33"/><circle cx="852.5" cy="677.5" r="2.33"/>
</g>
<g fill="#808080" stroke="#808080" stroke-width="2.083" fill-opacity="0.746" stroke-opacity="0.746">
<circle cx="372.5" cy="691.5" r="2.33"/><circle cx="389.5" cy="702.5" r="2.33"/><circle cx="403.5" cy="710.5" r="2.33"/><circle cx="426.5" cy="723.5" r="2.33"/><circle cx="456.5" cy="736.5" r="2.33"/><circle cx="501.5" cy="753.5" r="2.33"/><circle cx="562.5" cy="771.5" r="2.33"/><circle cx="601.5" cy="777.5" r="2.33"/><circle cx="652.5" cy="769.5" r="2.33"/><circle cx="732.5" cy="743.5" r="2.33"/><circle cx="837.5" cy="688.5" r="2.33"/><circle cx="860.5" cy="671.5" r="2.33"/>
</g>
<g fill="#808080" stroke="#808080" stroke-width="2.083" fill-opacity="0.771" stroke-opacity="0.771">
<circle cx="375.5" cy="693.5" r="2.33"/><circle cx="430.5" cy="725.5" r="2.33"/><circle cx="440.5" cy="729.5" r="2.33"/><circle cx="463.5" cy="739.5" r="2.33"/><circle cx="473.5" cy="743.5" r="2.33"/><circle cx="504.5" cy="754.5" r="2.33"/><circle cx="572.5" cy="773.5" r="2.33"/><circle cx="664.5" cy="766.5" r="2.33"/><circle cx="673.5" cy="764.5" r="2.33"/><circle cx="682.5" cy="761.5" r="2.33"/><circle cx="789.5" cy="718.5" r="2.33"/><circle cx="813.5" cy="704.5" r="2.33"/><circle cx="821.5" cy="699.5" r="2.33"/><circle cx="834.5" cy="690.5" r="2.33"/><circle cx="841.5" cy="685.5" r="2.33"/>
</g>
<g fill="#808080" stroke="#808080" stroke-width="2.083" fill-opacity="0.794" stroke-opacity="0.794">
<circle cx="401.5" cy="709.5" r="2.33"/><circle cx="406.5" cy="712.5" r="2.33"/><circle cx="434.5" cy="727.5" r="2.33"/><circle cx="489.5" cy="749.5" r="2.33"/><circle cx="566.5" cy="772.5" r="2.33"/><circle cx="633.5" cy="773.5" r="2.33"/><circle cx="638.5" cy="772.5" r="2.33"/><circle cx="710.5" cy="751.5" r="2.33"/><circle cx="756.5" cy="733.5" r="2.33"/><circle cx="767.5" cy="729.5" r="2.33"/><circle cx="769.5" cy="727.5" r="2.33"/><circle cx="783.5" cy="721.5" r="2.33"/><circle cx="814.5" cy="703.5" r="2.33"/><circle cx="818.5" cy="701.5" r="2.33"/><circle cx="830.5" cy="693.5" r="2.33"/><circle cx="831.5" cy="692.5" r="2.33"/>
</g>
<g fill="#808080" stroke="#808080" stroke-width="2.083" fill-opacity="0.815" stroke-opacity="0.815">
<circle cx="378.5" cy="695.5" r="2.33"/><circle cx="391.5" cy="703.5" r="2.33"/><circle cx="419.5" cy="719.5" r="2.33"/><circle cx="458.5" cy="737.5" r="2.33"/><circle cx="559.5" cy="769.5" r="2.33"/><circle cx="589.5" cy="775.5" r="2.33"/><circle cx="765.5" cy="730.5" r="2.33"/><circle cx="769.5" cy="728.5" r="2.33"/><circle cx="805.5" cy="708.5" r="2.33"/><circle cx="840.5" cy="686.5" r="2.33"/>
</g>
<g fill="#808080" stroke="#808080" stroke-width="2.083" fill-opacity="0.833" stroke-opacity="0.833">
<circle cx="396.5" cy="706.5" r="2.33"/><circle cx="411.5" cy="715.5" r="2.33"/><circle cx="747.5" cy="738.5" r="2.33"/><circle cx="756.5" cy="734.5" r="2.33"/><circle cx="798.5" cy="712.5" r="2.33"/><circle cx="803.5" cy="710.5" r="2.33"/>
</g>
<g fill="#808080" stroke="#808080" stroke-width="2.083" fill-opacity="0.850" stroke-opacity="0.850">
<circle cx="371.5" cy="690.5" r="2.33"/><circle cx="394.5" cy="705.5" r="2.33"/><circle cx="438.5" cy="728.5" r="2.33"/><circle cx="453.5" cy="735.5" r="2.33"/><circle cx="698.5" cy="755.5" r="2.33"/><circle cx="742.5" cy="739.5" r="2.33"/><circle cx="785.5" cy="719.5" r="2.33"/><circle cx="789.5" cy="717.5" r="2.33"/><circle cx="808.5" cy="707.5" r="2.33"/><circle cx="827.5" cy="695.5" r="2.33"/>
</g>
<g fill="#808080" stroke="#808080" stroke-width="2.083" fill-opacity="0.865" stroke-opacity="0.865">
<circle cx="398.5" cy="707.5" r="2.33"/><circle cx="421.5" cy="720.5" r="2.33"/><circle cx="422.5" cy="721.5" r="2.33"/><circle cx="424.5" cy="722.5" r="2.33"/><circle cx="428.5" cy="724.5" r="2.33"/><circle cx="436.5" cy="728.5" r="2.33"/><circle cx="451.5" cy="735.5" r="2.33"/><circle cx="478.5" cy="745.5" r="2.33"/><circle cx="507.5" cy="755.5" r="2.33"/><circle cx="510.5" cy="756.5" r="2.33"/><circle cx="523.5" cy="761.5" r="2.33"/><circle cx="646.5" cy="769.5" r="2.33"/><circle cx="671.5" cy="764.5" r="2.33"/><circle cx="765.5" cy="729.5" r="2.33"/><circle cx="778.5" cy="723.5" r="2.33"/><circle cx="781.5" cy="722.5" r="2.33"/><circle cx="817.5" cy="701.5" r="2.33"/><circle cx="822.5" cy="698.5" r="2.33"/>
</g>
<g fill="#808080" stroke="#808080" stroke-width="2.083" fill-opacity="0.878" stroke-opacity="0.878">
<circle cx="410.5" cy="714.5" r="2.33"/><circle cx="423.5" cy="721.5" r="2.33"/><circle cx="429.5" cy="724.5" r="2.33"/><circle cx="432.5" cy="726.5" r="2.33"/><circle cx="451.5" cy="734.5" r="2.33"/><circle cx="458.5" cy="738.5" r="2.33"/><circle cx="716.5" cy="749.5" r="2.33"/><circle cx="773.5" cy="726.5" r="2.33"/><circle cx="784.5" cy="720.5" r="2.33"/><circle cx="800.5" cy="711.5" r="2.33"/><circle cx="802.5" cy="710.5" r="2.33"/><circle cx="804.5" cy="709.5" r="2.33"/><circle cx="807.5" cy="707.5" r="2.33"/><circle cx="820.5" cy="699.5" r="2.33"/>
</g>
<g fill="#808080" stroke="#808080" stroke-width="2.083" fill-opacity="0.891" stroke-opacity="0.891">
<circle cx="404.5" cy="711.5" r="2.33"/><circle cx="478.5" cy="746.5" r="2.33"/><circle cx="719.5" cy="748.5" r="2.33"/><circle cx="727.5" cy="746.5" r="2.33"/><circle cx="796.5" cy="714.5" r="2.33"/><circle cx="816.5" cy="702.5" r="2.33"/>
</g>
<g fill="#808080" stroke="#808080" stroke-width="2.083" fill-opacity="0.902" stroke-opacity="0.902">
<circle cx="408.5" cy="713.5" r="2.33"/><circle cx="427.5" cy="723.5" r="2.33"/><circle cx="438.5" cy="729.5" r="2.33"/><circle cx="685.5" cy="759.5" r="2.33"/><circle cx="735.5" cy="743.5" r="2.33"/><circle cx="754.5" cy="735.5" r="2.33"/><circle cx="767.5" cy="728.5" r="2.33"/><circle cx="794.5" cy="715.5" r="2.33"/><circle cx="797.5" cy="713.5" r="2.33"/><circle cx="799.5" cy="712.5" r="2.33"/><circle cx="823.5" cy="697.5" r="2.33"/>
</g>
<g fill="#808080" stroke="#808080" stroke-width="2.083" fill-opacity="0.911" stroke-opacity="0.911">
<circle cx="415.5" cy="717.5" r="2.33"/><circle cx="616.5" cy="775.5" r="2.33"/><circle cx="763.5" cy="730.5" r="2.33"/>
</g>
<g fill="#808080" stroke="#808080" stroke-width="2.083" fill-opacity="0.920" stroke-opacity="0.920">
<circle cx="414.5" cy="716.5" r="2.33"/><circle cx="442.5" cy="730.5" r="2.33"/><circle cx="456.5" cy="737.5" r="2.33"/><circle cx="754.5" cy="734.5" r="2.33"/><circle cx="771.5" cy="727.5" r="2.33"/><circle cx="777.5" cy="724.5" r="2.33"/><circle cx="779.5" cy="723.5" r="2.33"/><circle cx="801.5" cy="711.5" r="2.33"/><circle cx="811.5" cy="705.5" r="2.33"/>
</g>
<g fill="#808080" stroke="#808080" stroke-width="2.083" fill-opacity="0.928" stroke-opacity="0.928">
<circle cx="449.5" cy="734.5" r="2.33"/><circle cx="527.5" cy="761.5" r="2.33"/><circle cx="727.5" cy="745.5" r="2.33"/><circle cx="785.5" cy="720.5" r="2.33"/><circle cx="791.5" cy="716.5" r="2.33"/><circle cx="809.5" cy="706.5" r="2.33"/><circle cx="825.5" cy="696.5" r="2.33"/>
</g>
<g fill="#808080" stroke="#808080" stroke-width="2.083" fill-opacity="0.935" stroke-opacity="0.935">
<circle cx="431.5" cy="725.5" r="2.33"/><circle cx="554.5" cy="769.5" r="2.33"/><circle cx="775.5" cy="725.5" r="2.33"/><circle cx="795.5" cy="714.5" r="2.33"/>
</g>
<g fill="#808080" stroke="#808080" stroke-width="2.083" fill-opacity="0.942" stroke-opacity="0.942">
<circle cx="435.5" cy="727.5" r="2.33"/><circle cx="437.5" cy="728.5" r="2.33"/><circle cx="441.5" cy="730.5" r="2.33"/><circle cx="534.5" cy="764.5" r="2.33"/><circle cx="788.5" cy="718.5" r="2.33"/>
</g>
<g fill="#808080" stroke="#808080" stroke-width="2.083" fill-opacity="0.948" stroke-opacity="0.948">
<circle cx="454.5" cy="736.5" r="2.33"/><circle cx="455.5" cy="736.5" r="2.33"/><circle cx="464.5" cy="740.5" r="2.33"/><circle cx="489.5" cy="750.5" r="2.33"/><circle cx="513.5" cy="758.5" r="2.33"/><circle cx="678.5" cy="761.5" r="2.33"/><circle cx="742.5" cy="740.5" r="2.33"/><circle cx="762.5" cy="731.5" r="2.33"/><circle cx="792.5" cy="716.5" r="2.33"/>
</g>
<g fill="#808080" stroke="#808080" stroke-width="2.083" fill-opacity="0.953" stroke-opacity="0.953">
<circle cx="413.5" cy="716.5" r="2.33"/><circle cx="470.5" cy="742.5" r="2.33"/><circle cx="583.5" cy="775.5" r="2.33"/>
</g>
<g fill="#808080" stroke="#808080" stroke-width="2.083" fill-opacity="0.958" stroke-opacity="0.958">
<circle cx="425.5" cy="722.5" r="2.33"/><circle cx="444.5" cy="731.5" r="2.33"/><circle cx="446.5" cy="732.5" r="2.33"/><circle cx="460.5" cy="738.5" r="2.33"/><circle cx="510.5" cy="757.5" r="2.33"/><circle cx="651.5" cy="769.5" r="2.33"/><circle cx="719.5" cy="749.5" r="2.33"/><circle cx="732.5" cy="744.5" r="2.33"/><circle cx="747.5" cy="737.5" r="2.33"/><circle cx="774.5" cy="725.5" r="2.33"/><circle cx="776.5" cy="724.5" r="2.33"/><circle cx="790.5" cy="717.5" r="2.33"/>
</g>
<g fill="#808080" stroke="#808080" stroke-width="2.083" fill-opacity="0.962" stroke-opacity="0.962">
<circle cx="417.5" cy="718.5" r="2.33"/><circle cx="447.5" cy="733.5" r="2.33"/><circle cx="468.5" cy="742.5" r="2.33"/><circle cx="542.5" cy="765.5" r="2.33"/><circle cx="758.5" cy="733.5" r="2.33"/><circle cx="759.5" cy="732.5" r="2.33"/>
</g>
<g fill="#808080" stroke="#808080" stroke-width="2.083" fill-opacity="0.966" stroke-opacity="0.966">
<circle cx="473.5" cy="744.5" r="2.33"/><circle cx="546.5" cy="766.5" r="2.33"/><circle cx="627.5" cy="773.5" r="2.33"/><circle cx="642.5" cy="771.5" r="2.33"/><circle cx="695.5" cy="756.5" r="2.33"/><circle cx="749.5" cy="737.5" r="2.33"/><circle cx="780.5" cy="722.5" r="2.33"/>
</g>
<g fill="#808080" stroke="#808080" stroke-width="2.083" fill-opacity="0.969" stroke-opacity="0.969">
<circle cx="448.5" cy="733.5" r="2.33"/><circle cx="474.5" cy="744.5" r="2.33"/><circle cx="520.5" cy="759.5" r="2.33"/><circle cx="563.5" cy="771.5" r="2.33"/><circle cx="632.5" cy="772.5" r="2.33"/><circle cx="692.5" cy="758.5" r="2.33"/><circle cx="757.5" cy="733.5" r="2.33"/><circle cx="782.5" cy="721.5" r="2.33"/><circle cx="793.5" cy="715.5" r="2.33"/>
</g>
<g fill="#808080" stroke="#808080" stroke-width="2.083" fill-opacity="0.972" stroke-opacity="0.972">
<circle cx="439.5" cy="729.5" r="2.33"/><circle cx="459.5" cy="738.5" r="2.33"/><circle cx="463.5" cy="740.5" r="2.33"/><circle cx="568.5" cy="771.5" r="2.33"/><circle cx="578.5" cy="773.5" r="2.33"/>
</g>
<g fill="#808080" stroke="#808080" stroke-width="2.083" fill-opacity="0.975" stroke-opacity="0.975">
<circle cx="433.5" cy="726.5" r="2.33"/><circle cx="445.5" cy="732.5" r="2.33"/><circle cx="768.5" cy="728.5" r="2.33"/><circle cx="806.5" cy="708.5" r="2.33"/>
</g>
<g fill="#808080" stroke="#808080" stroke-width="2.083" fill-opacity="0.977" stroke-opacity="0.977">
<circle cx="450.5" cy="734.5" r="2.33"/><circle cx="462.5" cy="739.5" r="2.33"/><circle cx="465.5" cy="740.5" r="2.33"/><circle cx="481.5" cy="747.5" r="2.33"/><circle cx="486.5" cy="748.5" r="2.33"/><circle cx="486.5" cy="749.5" r="2.33"/><circle cx="716.5" cy="750.5" r="2.33"/><circle cx="744.5" cy="739.5" r="2.33"/><circle cx="750.5" cy="736.5" r="2.33"/><circle cx="761.5" cy="731.5" r="2.33"/><circle cx="772.5" cy="726.5" r="2.33"/>
</g>
<g fill="#808080" stroke="#808080" stroke-width="2.083" fill-opacity="0.980" stroke-opacity="0.980">
<circle cx="452.5" cy="735.5" r="2.33"/><circle cx="461.5" cy="739.5" r="2.33"/><circle cx="471.5" cy="743.5" r="2.33"/><circle cx="492.5" cy="751.5" r="2.33"/><circle cx="682.5" cy="760.5" r="2.33"/><circle cx="740.5" cy="740.5" r="2.33"/><circle cx="745.5" cy="738.5" r="2.33"/><circle cx="786.5" cy="719.5" r="2.33"/>
</g>
<g fill="#808080" stroke="#808080" stroke-width="2.083" fill-opacity="0.982" stroke-opacity="0.982">
<circle cx="573.5" cy="772.5" r="2.33"/><circle cx="659.5" cy="766.5" r="2.33"/>
</g>
<g fill="#808080" stroke="#808080" stroke-width="2.083" fill-opacity="0.984" stroke-opacity="0.984">
<circle cx="534.5" cy="763.5" r="2.33"/><circle cx="722.5" cy="747.5" r="2.33"/><circle cx="728.5" cy="745.5" r="2.33"/><circle cx="751.5" cy="736.5" r="2.33"/><circle cx="755.5" cy="734.5" r="2.33"/>
</g>
<g fill="#808080" stroke="#808080" stroke-width="2.083" fill-opacity="0.985" stroke-opacity="0.985">
<circle cx="507.5" cy="756.5" r="2.33"/><circle cx="520.5" cy="760.5" r="2.33"/><circle cx="622.5" cy="775.5" r="2.33"/><circle cx="663.5" cy="765.5" r="2.33"/><circle cx="667.5" cy="764.5" r="2.33"/><circle cx="695.5" cy="757.5" r="2.33"/><circle cx="724.5" cy="747.5" r="2.33"/>
</g>
<g fill="#808080" stroke="#808080" stroke-width="2.083" fill-opacity="0.987" stroke-opacity="0.987">
<circle cx="457.5" cy="737.5" r="2.33"/><circle cx="472.5" cy="743.5" r="2.33"/><circle cx="655.5" cy="768.5" r="2.33"/><circle cx="733.5" cy="743.5" r="2.33"/>
</g>
<g fill="#808080" stroke="#808080" stroke-width="2.083" fill-opacity="0.988" stroke-opacity="0.988">
<circle cx="443.5" cy="731.5" r="2.33"/><circle cx="466.5" cy="741.5" r="2.33"/><circle cx="476.5" cy="745.5" r="2.33"/><circle cx="485.5" cy="748.5" r="2.33"/><circle cx="498.5" cy="753.5" r="2.33"/><circle cx="538.5" cy="764.5" r="2.33"/><circle cx="655.5" cy="767.5" r="2.33"/><circle cx="726.5" cy="746.5" r="2.33"/><circle cx="766.5" cy="729.5" r="2.33"/>
</g>
<g fill="#808080" stroke="#808080" stroke-width="2.083" fill-opacity="0.989" stroke-opacity="0.989">
<circle cx="469.5" cy="742.5" r="2.33"/><circle cx="538.5" cy="765.5" r="2.33"/><circle cx="550.5" cy="767.5" r="2.33"/><circle cx="748.5" cy="737.5" r="2.33"/>
</g>
<g fill="#808080" stroke="#808080" stroke-width="2.083" fill-opacity="0.990" stroke-opacity="0.990">
<circle cx="480.5" cy="746.5" r="2.33"/><circle cx="527.5" cy="762.5" r="2.33"/><circle cx="678.5" cy="762.5" r="2.33"/><circle cx="736.5" cy="742.5" r="2.33"/><circle cx="752.5" cy="735.5" r="2.33"/><circle cx="760.5" cy="732.5" r="2.33"/>
</g>
<g fill="#808080" stroke="#808080" stroke-width="2.083" fill-opacity="0.991" stroke-opacity="0.991">
<circle cx="467.5" cy="741.5" r="2.33"/><circle cx="475.5" cy="744.5" r="2.33"/><circle cx="477.5" cy="745.5" r="2.33"/><circle cx="479.5" cy="746.5" r="2.33"/><circle cx="482.5" cy="747.5" r="2.33"/><circle cx="483.5" cy="747.5" r="2.33"/><circle cx="484.5" cy="748.5" r="2.33"/><circle cx="487.5" cy="749.5" r="2.33"/><circle cx="488.5" cy="749.5" r="2.33"/><circle cx="490.5" cy="750.5" r="2.33"/><circle cx="491.5" cy="750.5" r="2.33"/><circle cx="493.5" cy="751.5" r="2.33"/><circle cx="494.5" cy="751.5" r="2.33"/><circle cx="495.5" cy="752.5" r="2.33"/><circle cx="496.5" cy="752.5" r="2.33"/><circle cx="497.5" cy="752.5" r="2.33"/><circle cx="499.5" cy="753.5" r="2.33"/><circle cx="500.5" cy="753.5" r="2.33"/><circle cx="501.5" cy="754.5" r="2.33"/><circle cx="502.5" cy="754.5" r="2.33"/><circle cx="503.5" cy="754.5" r="2.33"/><circle cx="504.5" cy="755.5" r="2.33"/><circle cx="505.5" cy="755.5" r="2.33"/><circle cx="506.5" cy="755.5" r="2.33"/><circle cx="508.5" cy="756.5" r="2.33"/><circle cx="509.5" cy="756.5" r="2.33"/><circle cx="511.5" cy="757.5" r="2.33"/><circle cx="512.5" cy="757.5" r="2.33"/><circle cx="513.5" cy="757.5" r="2.33"/><circle cx="514.5" cy="758.5" r="2.33"/><circle cx="515.5" cy="758.5" r="2.33"/><circle cx="516.5" cy="758.5" r="2.33"/><circle cx="517.5" cy="759.5" r="2.33"/><circle cx="518.5" cy="759.5" r="2.33"/><circle cx="519.5" cy="759.5" r="2.33"/><circle cx="521.5" cy="760.5" r="2.33"/><circle cx="522.5" cy="760.5" r="2.33"/><circle cx="523.5" cy="760.5" r="2.33"/><circle cx="524.5" cy="761.5" r="2.33"/><circle cx="525.5" cy="761.5" r="2.33"/><circle cx="526.5" cy="761.5" r="2.33"/><circle cx="528.5" cy="762.5" r="2.33"/><circle cx="529.5" cy="762.5" r="2.33"/><circle cx="530.5" cy="762.5" r="2.33"/><circle cx="531.5" cy="763.5" r="2.33"/><circle cx="532.5" cy="763.5" r="2.33"/><circle cx="533.5" cy="763.5" r="2.33"/><circle cx="535.5" cy="764.5" r="2.33"/><circle cx="536.5" cy="764.5" r="2.33"/><circle cx="537.5" cy="764.5" r="2.33"/><circle cx="539.5" cy="765.5" r="2.33"/><circle cx="540.5" cy="765.5" r="2.33"/><circle cx="541.5" cy="765.5" r="2.33"/><circle cx="542.5" cy="766.5" r="2.33"/><circle cx="543.5" cy="766.5" r="2.33"/><circle cx="544.5" cy="766.5" r="2.33"/><circle cx="545.5" cy="766.5" r="2.33"/><circle cx="546.5" cy="767.5" r="2.33"/><circle cx="547.5" cy="767.5" r="2.33"/><circle cx="548.5" cy="767.5" r="2.33"/><circle cx="549.5" cy="767.5" r="2.33"/><circle cx="550.5" cy="768.5" r="2.33"/><circle cx="551.5" cy="768.5" r="2.33"/><circle cx="552.5" cy="768.5" r="2.33"/><circle cx="553.5" cy="768.5" r="2.33"/><circle cx="554.5" cy="768.5" r="2.33"/><circle cx="555.5" cy="769.5" r="2.33"/><circle cx="556.5" cy="769.5" r="2.33"/><circle cx="557.5" cy="769.5" r="2.33"/><circle cx="558.5" cy="769.5" r="2.33"/><circle cx="559.5" cy="770.5" r="2.33"/><circle cx="560.5" cy="770.5" r="2.33"/><circle cx="561.5" cy="770.5" r="2.33"/><circle cx="562.5" cy="770.5" r="2.33"/><circle cx="563.5" cy="770.5" r="2.33"/><circle cx="564.5" cy="771.5" r="2.33"/><circle cx="565.5" cy="771.5" r="2.33"/><circle cx="566.5" cy="771.5" r="2.33"/><circle cx="567.5" cy="771.5" r="2.33"/><circle cx="568.5" cy="772.5" r="2.33"/><circle cx="569.5" cy="772.5" r="2.33"/><circle cx="570.5" cy="772.5" r="2.33"/><circle cx="571.5" cy="772.5" r="2.33"/><circle cx="572.5" cy="772.5" r="2.33"/><circle cx="573.5" cy="773.5" r="2.33"/><circle cx="574.5" cy="773.5" r="2.33"/><circle cx="575.5" cy="773.5" r="2.33"/><circle cx="576.5" cy="773.5" r="2.33"/><circle cx="577.5" cy="773.5" r="2.33"/><circle cx="578.5" cy="774.5" r="2.33"/><circle cx="579.5" cy="774.5" r="2.33"/><circle cx="580.5" cy="774.5" r="2.33"/><circle cx="581.5" cy="774.5" r="2.33"/><circle cx="582.5" cy="774.5" r="2.33"/><circle cx="583.5" cy="774.5" r="2.33"/><circle cx="584.5" cy="775.5" r="2.33"/><circle cx="585.5" cy="775.5" r="2.33"/><circle cx="586.5" cy="775.5" r="2.33"/><circle cx="587.5" cy="775.5" r="2.33"/><circle cx="588.5" cy="775.5" r="2.33"/><circle cx="589.5" cy="776.5" r="2.33"/><circle cx="590.5" cy="776.5" r="2.33"/><circle cx="591.5" cy="776.5" r="2.33"/><circle cx="592.5" cy="776.5" r="2.33"/><circle cx="593.5" cy="776.5" r="2.33"/><circle cx="594.5" cy="776.5" r="2.33"/><circle cx="595.5" cy="777.5" r="2.33"/><circle cx="596.5" cy="777.5" r="2.33"/><circle cx="597.5" cy="777.5" r="2.33"/><circle cx="598.5" cy="777.5" r="2.33"/><circle cx="599.5" cy="777.5" r="2.33"/><circle cx="600.5" cy="777.5" r="2.33"/><circle cx="601.5" cy="778.5" r="2.33"/><circle cx="602.5" cy="778.5" r="2.33"/><circle cx="603.5" cy="778.5" r="2.33"/><circle cx="604.5" cy="778.5" r="2.33"/><circle cx="605.5" cy="777.5" r="2.33"/><circle cx="606.5" cy="777.5" r="2.33"/><circle cx="607.5" cy="777.5" r="2.33"/><circle cx="608.5" cy="777.5" r="2.33"/><circle cx="609.5" cy="777.5" r="2.33"/><circle cx="610.5" cy="777.5" r="2.33"/><circle cx="611.5" cy="776.5" r="2.33"/><circle cx="612.5" cy="776.5" r="2.33"/><circle cx="613.5" cy="776.5" r="2.33"/><circle cx="614.5" cy="776.5" r="2.33"/><circle cx="615.5" cy="776.5" r="2.33"/><circle cx="616.5" cy="776.5" r="2.33"/><circle cx="617.5" cy="775.5" r="2.33"/><circle cx="618.5" cy="775.5" r="2.33"/><circle cx="619.5" cy="775.5" r="2.33"/><circle cx="620.5" cy="775.5" r="2.33"/><circle cx="621.5" cy="775.5" r="2.33"/><circle cx="622.5" cy="774.5" r="2.33"/><circle cx="623.5" cy="774.5" r="2.33"/><circle cx="624.5" cy="774.5" r="2.33"/><circle cx="625.5" cy="774.5" r="2.33"/><circle cx="626.5" cy="774.5" r="2.33"/><circle cx="627.5" cy="774.5" r="2.33"/><circle cx="628.5" cy="773.5" r="2.33"/><circle cx="629.5" cy="773.5" r="2.33"/><circle cx="630.5" cy="773.5" r="2.33"/><circle cx="631.5" cy="773.5" r="2.33"/><circle cx="632.5" cy="773.5" r="2.33"/><circle cx="633.5" cy="772.5" r="2.33"/><circle cx="634.5" cy="772.5" r="2.33"/><circle cx="635.5" cy="772.5" r="2.33"/><circle cx="636.5" cy="772.5" r="2.33"/><circle cx="637.5" cy="771.5" r="2.33"/><circle cx="637.5" cy="772.5" r="2.33"/><circle cx="638.5" cy="771.5" r="2.33"/><circle cx="639.5" cy="771.5" r="2.33"/><circle cx="640.5" cy="771.5" r="2.33"/><circle cx="641.5" cy="771.5" r="2.33"/><circle cx="642.5" cy="770.5" r="2.33"/><circle cx="643.5" cy="770.5" r="2.33"/><circle cx="644.5" cy="770.5" r="2.33"/><circle cx="645.5" cy="770.5" r="2.33"/><circle cx="646.5" cy="770.5" r="2.33"/><circle cx="647.5" cy="769.5" r="2.33"/><circle cx="648.5" cy="769.5" r="2.33"/><circle cx="649.5" cy="769.5" r="2.33"/><circle cx="650.5" cy="769.5" r="2.33"/><circle cx="651.5" cy="768.5" r="2.33"/><circle cx="652.5" cy="768.5" r="2.33"/><circle cx="653.5" cy="768.5" r="2.33"/><circle cx="654.5" cy="768.5" r="2.33"/><circle cx="656.5" cy="767.5" r="2.33"/><circle cx="657.5" cy="767.5" r="2.33"/><circle cx="658.5" cy="767.5" r="2.33"/><circle cx="659.5" cy="767.5" r="2.33"/><circle cx="660.5" cy="766.5" r="2.33"/><circle cx="661.5" cy="766.5" r="2.33"/><circle cx="662.5" cy="766.5" r="2.33"/><circle cx="663.5" cy="766.5" r="2.33"/><circle cx="664.5" cy="765.5" r="2.33"/><circle cx="665.5" cy="765.5" r="2.33"/><circle cx="666.5" cy="765.5" r="2.33"/><circle cx="667.5" cy="765.5" r="2.33"/><circle cx="668.5" cy="764.5" r="2.33"/><circle cx="669.5" cy="764.5" r="2.33"/><circle cx="670.5" cy="764.5" r="2.33"/><circle cx="671.5" cy="763.5" r="2.33"/><circle cx="672.5" cy="763.5" r="2.33"/><circle cx="673.5" cy="763.5" r="2.33"/><circle cx="674.5" cy="763.5" r="2.33"/><circle cx="675.5" cy="762.5" r="2.33"/><circle cx="676.5" cy="762.5" r="2.33"/><circle cx="677.5" cy="762.5" r="2.33"/><circle cx="679.5" cy="761.5" r="2.33"/><circle cx="680.5" cy="761.5" r="2.33"/><circle cx="681.5" cy="761.5" r="2.33"/><circle cx="683.5" cy="760.5" r="2.33"/><circle cx="684.5" cy="760.5" r="2.33"/><circle cx="685.5" cy="760.5" r="2.33"/><circle cx="686.5" cy="759.5" r="2.33"/><circle cx="687.5" cy="759.5" r="2.33"/><circle cx="688.5" cy="759.5" r="2.33"/><circle cx="689.5" cy="758.5" r="2.33"/><circle cx="690.5" cy="758.5" r="2.33"/><circle cx="691.5" cy="758.5" r="2.33"/><circle cx="692.5" cy="757.5" r="2.33"/><circle cx="693.5" cy="757.5" r="2.33"/><circle cx="694.5" cy="757.5" r="2.33"/><circle cx="696.5" cy="756.5" r="2.33"/><circle cx="697.5" cy="756.5" r="2.33"/><circle cx="698.5" cy="756.5" r="2.33"/><circle cx="699.5" cy="755.5" r="2.33"/><circle cx="700.5" cy="755.5" r="2.33"/><circle cx="701.5" cy="755.5" r="2.33"/><circle cx="702.5" cy="754.5" r="2.33"/><circle cx="703.5" cy="754.5" r="2.33"/><circle cx="704.5" cy="754.5" r="2.33"/><circle cx="705.5" cy="753.5" r="2.33"/><circle cx="706.5" cy="753.5" r="2.33"/><circle cx="707.5" cy="753.5" r="2.33"/><circle cx="708.5" cy="752.5" r="2.33"/><circle cx="709.5" cy="752.5" r="2.33"/><circle cx="710.5" cy="752.5" r="2.33"/><circle cx="711.5" cy="751.5" r="2.33"/><circle cx="712.5" cy="751.5" r="2.33"/><circle cx="713.5" cy="751.5" r="2.33"/><circle cx="714.5" cy="750.5" r="2.33"/><circle cx="715.5" cy="750.5" r="2.33"/><circle cx="717.5" cy="749.5" r="2.33"/><circle cx="718.5" cy="749.5" r="2.33"/><circle cx="720.5" cy="748.5" r="2.33"/><circle cx="721.5" cy="748.5" r="2.33"/><circle cx="723.5" cy="747.5" r="2.33"/><circle cx="725.5" cy="746.5" r="2.33"/><circle cx="729.5" cy="745.5" r="2.33"/><circle cx="730.5" cy="744.5" r="2.33"/><circle cx="731.5" cy="744.5" r="2.33"/><circle cx="734.5" cy="743.5" r="2.33"/><circle cx="735.5" cy="742.5" r="2.33"/><circle cx="737.5" cy="742.5" r="2.33"/><circle cx="738.5" cy="741.5" r="2.33"/><circle cx="739.5" cy="741.5" r="2.33"/><circle cx="741.5" cy="740.5" r="2.33"/><circle cx="743.5" cy="739.5" r="2.33"/><circle cx="746.5" cy="738.5" r="2.33"/><circle cx="753.5" cy="735.5" r="2.33"/><circle cx="764.5" cy="730.5" r="2.33"/><circle cx="770.5" cy="727.5" r="2.33"/>
</g>
<g fill="#e74c3c" stroke="#e74c3c" stroke-width="2.083" fill-opacity=".5" stroke-opacity=".5">
<circle cx="915.5" cy="621.5" r="3.29"/><circle cx="917.5" cy="619.5" r="3.29"/><circle cx="914.5" cy="622.5" r="3.29"/><circle cx="897.5" cy="639.5" r="3.29"/><circle cx="890.5" cy="645.5" r="3.29"/><circle cx="901.5" cy="636.5" r="3.29"/><circle cx="911.5" cy="625.5" r="3.29"/><circle cx="889.5" cy="647.5" r="3.29"/><circle cx="879.5" cy="656.5" r="3.29"/><circle cx="896.5" cy="640.5" r="3.29"/><circle cx="910.5" cy="626.5" r="3.29"/><circle cx="879.5" cy="656.5" r="3.29"/><circle cx="883.5" cy="652.5" r="3.29"/><circle cx="895.5" cy="641.5" r="3.29"/><circle cx="933.5" cy="600.5" r="3.29"/><circle cx="904.5" cy="635.5" r="3.29"/><circle cx="913.5" cy="623.5" r="3.29"/><circle cx="889.5" cy="646.5" r="3.29"/><circle cx="887.5" cy="648.5" r="3.29"/><circle cx="884.5" cy="654.5" r="3.29"/><circle cx="881.5" cy="654.5" r="3.29"/><circle cx="941.5" cy="591.5" r="3.29"/><circle cx="913.5" cy="623.5" r="3.29"/><circle cx="883.5" cy="652.5" r="3.29"/><circle cx="889.5" cy="647.5" r="3.29"/><circle cx="917.5" cy="618.5" r="3.29"/><circle cx="904.5" cy="633.5" r="3.29"/><circle cx="891.5" cy="645.5" r="3.29"/><circle cx="937.5" cy="597.5" r="3.29"/><circle cx="892.5" cy="644.5" r="3.29"/><circle cx="891.5" cy="645.5" r="3.29"/><circle cx="917.5" cy="619.5" r="3.29"/><circle cx="945.5" cy="586.5" r="3.29"/><circle cx="886.5" cy="649.5" r="3.29"/><circle cx="944.5" cy="588.5" r="3.29"/><circle cx="904.5" cy="632.5" r="3.29"/><circle cx="915.5" cy="621.5" r="3.29"/><circle cx="907.5" cy="630.5" r="3.29"/><circle cx="879.5" cy="656.5" r="3.29"/><circle cx="885.5" cy="650.5" r="3.29"/><circle cx="928.5" cy="611.5" r="3.29"/><circle cx="907.5" cy="630.5" r="3.29"/><circle cx="922.5" cy="614.5" r="3.29"/><circle cx="931.5" cy="603.5" r="3.29"/><circle cx="889.5" cy="647.5" r="3.29"/><circle cx="891.5" cy="645.5" r="3.29"/><circle cx="910.5" cy="626.5" r="3.29"/><circle cx="893.5" cy="643.5" r="3.29"/><circle cx="883.5" cy="652.5" r="3.29"/><circle cx="946.5" cy="585.5" r="3.29"/><circle cx="915.5" cy="621.5" r="3.29"/><circle cx="909.5" cy="628.5" r="3.29"/><circle cx="879.5" cy="656.5" r="3.29"/><circle cx="886.5" cy="649.5" r="3.29"/><circle cx="902.5" cy="634.5" r="3.29"/><circle cx="912.5" cy="624.5" r="3.29"/><circle cx="887.5" cy="649.5" r="3.29"/><circle cx="896.5" cy="640.5" r="3.29"/><circle cx="897.5" cy="639.5" r="3.29"/><circle cx="934.5" cy="600.5" r="3.29"/><circle cx="902.5" cy="634.5" r="3.29"/><circle cx="924.5" cy="611.5" r="3.29"/><circle cx="878.5" cy="656.5" r="3.29"/><circle cx="920.5" cy="615.5" r="3.29"/><circle cx="900.5" cy="636.5" r="3.29"/><circle cx="923.5" cy="612.5" r="3.29"/><circle cx="902.5" cy="634.5" r="3.29"/><circle cx="907.5" cy="630.5" r="3.29"/><circle cx="902.5" cy="634.5" r="3.29"/><circle cx="910.5" cy="626.5" r="3.29"/><circle cx="880.5" cy="655.5" r="3.29"/><circle cx="892.5" cy="644.5" r="3.29"/><circle cx="912.5" cy="624.5" r="3.29"/><circle cx="935.5" cy="599.5" r="3.29"/><circle cx="880.5" cy="655.5" r="3.29"/><circle cx="891.5" cy="645.5" r="3.29"/><circle cx="882.5" cy="653.5" r="3.29"/><circle cx="897.5" cy="639.5" r="3.29"/><circle cx="898.5" cy="638.5" r="3.29"/><circle cx="919.5" cy="616.5" r="3.29"/><circle cx="942.5" cy="590.5" r="3.29"/><circle cx="912.5" cy="624.5" r="3.29"/><circle cx="889.5" cy="646.5" r="3.29"/><circle cx="891.5" cy="645.5" r="3.29"/><circle cx="944.5" cy="588.5" r="3.29"/><circle cx="894.5" cy="642.5" r="3.29"/><circle cx="878.5" cy="656.5" r="3.29"/><circle cx="879.5" cy="655.5" r="3.29"/><circle cx="888.5" cy="647.5" r="3.29"/><circle cx="909.5" cy="627.5" r="3.29"/><circle cx="935.5" cy="599.5" r="3.29"/><circle cx="908.5" cy="628.5" r="3.29"/><circle cx="897.5" cy="639.5" r="3.29"/><circle cx="910.5" cy="626.5" r="3.29"/><circle cx="889.5" cy="647.5" r="3.29"/><circle cx="914.5" cy="622.5" r="3.29"/><circle cx="905.5" cy="631.5" r="3.29"/><circle cx="927.5" cy="607.5" r="3.29"/><circle cx="883.5" cy="652.5" r="3.29"/><circle cx="940.5" cy="592.5" r="3.29"/><circle cx="905.5" cy="631.5" r="3.29"/><circle cx="880.5" cy="655.5" r="3.29"/><circle cx="899.5" cy="638.5" r="3.29"/><circle cx="884.5" cy="651.5" r="3.29"/><circle cx="904.5" cy="633.5" r="3.29"/><circle cx="944.5" cy="587.5" r="3.29"/><circle cx="900.5" cy="636.5" r="3.29"/><circle cx="886.5" cy="650.5" r="3.29"/><circle cx="902.5" cy="634.5" r="3.29"/><circle cx="936.5" cy="597.5" r="3.29"/><circle cx="905.5" cy="631.5" r="3.29"/><circle cx="887.5" cy="649.5" r="3.29"/><circle cx="896.5" cy="640.5" r="3.29"/><circle cx="891.5" cy="645.5" r="3.29"/><circle cx="944.5" cy="588.5" r="3.29"/><circle cx="900.5" cy="636.5" r="3.29"/><circle cx="895.5" cy="641.5" r="3.29"/><circle cx="900.5" cy="636.5" r="3.29"/><circle cx="899.5" cy="644.5" r="3.29"/><circle cx="928.5" cy="607.5" r="3.29"/><circle cx="889.5" cy="647.5" r="3.29"/><circle cx="935.5" cy="598.5" r="3.29"/><circle cx="942.5" cy="590.5" r="3.29"/><circle cx="902.5" cy="637.5" r="3.29"/><circle cx="887.5" cy="649.5" r="3.29"/><circle cx="927.5" cy="608.5" r="3.29"/><circle cx="902.5" cy="634.5" r="3.29"/><circle cx="879.5" cy="656.5" r="3.29"/><circle cx="943.5" cy="589.5" r="3.29"/><circle cx="949.5" cy="581.5" r="3.29"/><circle cx="943.5" cy="593.5" r="3.29"/><circle cx="892.5" cy="644.5" r="3.29"/><circle cx="879.5" cy="656.5" r="3.29"/><circle cx="906.5" cy="630.5" r="3.29"/><circle cx="925.5" cy="611.5" r="3.29"/><circle cx="890.5" cy="646.5" r="3.29"/><circle cx="927.5" cy="608.5" r="3.29"/><circle cx="894.5" cy="642.5" r="3.29"/><circle cx="935.5" cy="603.5" r="3.29"/><circle cx="881.5" cy="654.5" r="3.29"/><circle cx="899.5" cy="638.5" r="3.29"/><circle cx="889.5" cy="646.5" r="3.29"/><circle cx="949.5" cy="581.5" r="3.29"/><circle cx="909.5" cy="627.5" r="3.29"/><circle cx="931.5" cy="603.5" r="3.29"/><circle cx="919.5" cy="617.5" r="3.29"/><circle cx="888.5" cy="647.5" r="3.29"/><circle cx="912.5" cy="624.5" r="3.29"/><circle cx="908.5" cy="628.5" r="3.29"/><circle cx="949.5" cy="581.5" r="3.29"/><circle cx="883.5" cy="652.5" r="3.29"/><circle cx="893.5" cy="643.5" r="3.29"/><circle cx="940.5" cy="592.5" r="3.29"/><circle cx="909.5" cy="630.5" r="3.29"/><circle cx="906.5" cy="630.5" r="3.29"/><circle cx="936.5" cy="598.5" r="3.29"/><circle cx="920.5" cy="616.5" r="3.29"/><circle cx="879.5" cy="656.5" r="3.29"/><circle cx="899.5" cy="637.5" r="3.29"/><circle cx="932.5" cy="602.5" r="3.29"/><circle cx="911.5" cy="625.5" r="3.29"/><circle cx="910.5" cy="626.5" r="3.29"/><circle cx="888.5" cy="648.5" r="3.29"/><circle cx="888.5" cy="648.5" r="3.29"/><circle cx="925.5" cy="609.5" r="3.29"/><circle cx="913.5" cy="623.5" r="3.29"/><circle cx="934.5" cy="600.5" r="3.29"/><circle cx="913.5" cy="634.5" r="3.29"/><circle cx="948.5" cy="582.5" r="3.29"/><circle cx="879.5" cy="656.5" r="3.29"/><circle cx="904.5" cy="632.5" r="3.29"/><circle cx="881.5" cy="656.5" r="3.29"/><circle cx="940.5" cy="593.5" r="3.29"/><circle cx="930.5" cy="605.5" r="3.29"/><circle cx="879.5" cy="656.5" r="3.29"/><circle cx="883.5" cy="652.5" r="3.29"/><circle cx="923.5" cy="612.5" r="3.29"/><circle cx="879.5" cy="656.5" r="3.29"/><circle cx="949.5" cy="581.5" r="3.29"/><circle cx="883.5" cy="652.5" r="3.29"/><circle cx="927.5" cy="607.5" r="3.29"/><circle cx="889.5" cy="653.5" r="3.29"/><circle cx="899.5" cy="637.5" r="3.29"/><circle cx="886.5" cy="656.5" r="3.29"/><circle cx="895.5" cy="654.5" r="3.29"/><circle cx="923.5" cy="613.5" r="3.29"/><circle cx="898.5" cy="638.5" r="3.29"/><circle cx="941.5" cy="591.5" r="3.29"/><circle cx="888.5" cy="648.5" r="3.29"/><circle cx="900.5" cy="636.5" r="3.29"/><circle cx="927.5" cy="608.5" r="3.29"/><circle cx="922.5" cy="613.5" r="3.29"/><circle cx="884.5" cy="651.5" r="3.29"/><circle cx="910.5" cy="626.5" r="3.29"/><circle cx="904.5" cy="633.5" r="3.29"/><circle cx="915.5" cy="621.5" r="3.29"/><circle cx="894.5" cy="642.5" r="3.29"/><circle cx="926.5" cy="609.5" r="3.29"/><circle cx="921.5" cy="614.5" r="3.29"/><circle cx="925.5" cy="610.5" r="3.29"/><circle cx="893.5" cy="643.5" r="3.29"/><circle cx="942.5" cy="590.5" r="3.29"/><circle cx="888.5" cy="647.5" r="3.29"/><circle cx="894.5" cy="642.5" r="3.29"/><circle cx="915.5" cy="621.5" r="3.29"/><circle cx="900.5" cy="636.5" r="3.29"/><circle cx="940.5" cy="596.5" r="3.29"/><circle cx="948.5" cy="588.5" r="3.29"/><circle cx="887.5" cy="649.5" r="3.29"/><circle cx="926.5" cy="609.5" r="3.29"/><circle cx="879.5" cy="656.5" r="3.29"/><circle cx="909.5" cy="628.5" r="3.29"/><circle cx="907.5" cy="629.5" r="3.29"/><circle cx="879.5" cy="656.5" r="3.29"/><circle cx="925.5" cy="610.5" r="3.29"/><circle cx="892.5" cy="644.5" r="3.29"/><circle cx="920.5" cy="616.5" r="3.29"/><circle cx="892.5" cy="644.5" r="3.29"/><circle cx="898.5" cy="638.5" r="3.29"/><circle cx="946.5" cy="584.5" r="3.29"/><circle cx="886.5" cy="650.5" r="3.29"/><circle cx="889.5" cy="647.5" r="3.29"/><circle cx="891.5" cy="651.5" r="3.29"/><circle cx="927.5" cy="608.5" r="3.29"/><circle cx="913.5" cy="623.5" r="3.29"/><circle cx="893.5" cy="652.5" r="3.29"/><circle cx="896.5" cy="644.5" r="3.29"/><circle cx="915.5" cy="621.5" r="3.29"/><circle cx="899.5" cy="651.5" r="3.29"/><circle cx="888.5" cy="648.5" r="3.29"/><circle cx="889.5" cy="647.5" r="3.29"/><circle cx="883.5" cy="652.5" r="3.29"/><circle cx="895.5" cy="641.5" r="3.29"/><circle cx="885.5" cy="651.5" r="3.29"/><circle cx="930.5" cy="605.5" r="3.29"/><circle cx="886.5" cy="649.5" r="3.29"/><circle cx="906.5" cy="644.5" r="3.29"/><circle cx="907.5" cy="629.5" r="3.29"/><circle cx="912.5" cy="624.5" r="3.29"/><circle cx="901.5" cy="636.5" r="3.29"/><circle cx="901.5" cy="635.5" r="3.29"/><circle cx="903.5" cy="633.5" r="3.29"/><circle cx="879.5" cy="655.5" r="3.29"/><circle cx="898.5" cy="638.5" r="3.29"/><circle cx="887.5" cy="648.5" r="3.29"/><circle cx="879.5" cy="655.5" r="3.29"/><circle cx="911.5" cy="640.5" r="3.29"/><circle cx="880.5" cy="655.5" r="3.29"/><circle cx="926.5" cy="608.5" r="3.29"/><circle cx="897.5" cy="640.5" r="3.29"/><circle cx="944.5" cy="596.5" r="3.29"/><circle cx="921.5" cy="615.5" r="3.29"/><circle cx="914.5" cy="622.5" r="3.29"/><circle cx="926.5" cy="608.5" r="3.29"/><circle cx="912.5" cy="625.5" r="3.29"/><circle cx="922.5" cy="613.5" r="3.29"/><circle cx="910.5" cy="626.5" r="3.29"/><circle cx="882.5" cy="653.5" r="3.29"/><circle cx="925.5" cy="610.5" r="3.29"/><circle cx="911.5" cy="625.5" r="3.29"/><circle cx="902.5" cy="634.5" r="3.29"/><circle cx="891.5" cy="644.5" r="3.29"/><circle cx="932.5" cy="602.5" r="3.29"/><circle cx="918.5" cy="617.5" r="3.29"/><circle cx="915.5" cy="621.5" r="3.29"/><circle cx="895.5" cy="641.5" r="3.29"/><circle cx="880.5" cy="654.5" r="3.29"/><circle cx="892.5" cy="644.5" r="3.29"/><circle cx="893.5" cy="643.5" r="3.29"/><circle cx="908.5" cy="628.5" r="3.29"/><circle cx="878.5" cy="656.5" r="3.29"/><circle cx="908.5" cy="628.5" r="3.29"/><circle cx="910.5" cy="626.5" r="3.29"/><circle cx="879.5" cy="655.5" r="3.29"/><circle cx="908.5" cy="629.5" r="3.29"/><circle cx="878.5" cy="657.5" r="3.29"/><circle cx="881.5" cy="654.5" r="3.29"/><circle cx="923.5" cy="613.5" r="3.29"/><circle cx="885.5" cy="651.5" r="3.29"/><circle cx="883.5" cy="652.5" r="3.29"/><circle cx="891.5" cy="645.5" r="3.29"/><circle cx="931.5" cy="603.5" r="3.29"/><circle cx="909.5" cy="628.5" r="3.29"/><circle cx="880.5" cy="655.5" r="3.29"/><circle cx="902.5" cy="634.5" r="3.29"/><circle cx="888.5" cy="648.5" r="3.29"/><circle cx="901.5" cy="635.5" r="3.29"/><circle cx="879.5" cy="656.5" r="3.29"/><circle cx="922.5" cy="614.5" r="3.29"/><circle cx="948.5" cy="583.5" r="3.29"/><circle cx="907.5" cy="629.5" r="3.29"/><circle cx="885.5" cy="650.5" r="3.29"/><circle cx="906.5" cy="630.5" r="3.29"/><circle cx="882.5" cy="653.5" r="3.29"/><circle cx="894.5" cy="642.5" r="3.29"/><circle cx="948.5" cy="582.5" r="3.29"/><circle cx="889.5" cy="646.5" r="3.29"/><circle cx="924.5" cy="612.5" r="3.29"/><circle cx="925.5" cy="614.5" r="3.29"/><circle cx="885.5" cy="650.5" r="3.29"/><circle cx="914.5" cy="622.5" r="3.29"/><circle cx="889.5" cy="647.5" r="3.29"/><circle cx="882.5" cy="653.5" r="3.29"/><circle cx="1113.5" cy="90.5" r="3.29"/><circle cx="1072.5" cy="351.5" r="3.29"/><circle cx="1077.5" cy="357.5" r="3.29"/><circle cx="1048.5" cy="392.5" r="3.29"/><circle cx="1055.5" cy="404.5" r="3.29"/><circle cx="1065.5" cy="417.5" r="3.29"/><circle cx="1030.5" cy="440.5" r="3.29"/><circle cx="1030.5" cy="441.5" r="3.29"/><circle cx="1030.5" cy="448.5" r="3.29"/><circle cx="1021.5" cy="460.5" r="3.29"/><circle cx="1021.5" cy="461.5" r="3.29"/><circle cx="1018.5" cy="467.5" r="3.29"/><circle cx="1017.5" cy="470.5" r="3.29"/><circle cx="1015.5" cy="473.5" r="3.29"/><circle cx="1015.5" cy="473.5" r="3.29"/><circle cx="1030.5" cy="473.5" r="3.29"/><circle cx="1033.5" cy="477.5" r="3.29"/><circle cx="1038.5" cy="483.5" r="3.29"/><circle cx="1031.5" cy="489.5" r="3.29"/><circle cx="1034.5" cy="491.5" r="3.29"/><circle cx="1015.5" cy="488.5" r="3.29"/><circle cx="1001.5" cy="500.5" r="3.29"/><circle cx="997.5" cy="506.5" r="3.29"/><circle cx="1003.5" cy="506.5" r="3.29"/><circle cx="1008.5" cy="509.5" r="3.29"/><circle cx="1007.5" cy="511.5" r="3.29"/><circle cx="998.5" cy="506.5" r="3.29"/><circle cx="995.5" cy="511.5" r="3.29"/><circle cx="998.5" cy="514.5" r="3.29"/><circle cx="992.5" cy="516.5" r="3.29"/><circle cx="990.5" cy="521.5" r="3.29"/><circle cx="994.5" cy="521.5" r="3.29"/><circle cx="986.5" cy="528.5" r="3.29"/><circle cx="984.5" cy="530.5" r="3.29"/><circle cx="982.5" cy="534.5" r="3.29"/><circle cx="981.5" cy="537.5" r="3.29"/><circle cx="980.5" cy="540.5" r="3.29"/><circle cx="980.5" cy="543.5" r="3.29"/><circle cx="971.5" cy="551.5" r="3.29"/><circle cx="970.5" cy="553.5" r="3.29"/><circle cx="968.5" cy="556.5" r="3.29"/><circle cx="965.5" cy="560.5" r="3.29"/><circle cx="963.5" cy="562.5" r="3.29"/><circle cx="961.5" cy="565.5" r="3.29"/><circle cx="959.5" cy="568.5" r="3.29"/><circle cx="957.5" cy="571.5" r="3.29"/><circle cx="955.5" cy="574.5" r="3.29"/><circle cx="953.5" cy="577.5" r="3.29"/><circle cx="966.5" cy="566.5" r="3.29"/><circle cx="962.5" cy="572.5" r="3.29"/><circle cx="1014.5" cy="529.5" r="3.29"/><circle cx="983.5" cy="556.5" r="3.29"/><circle cx="985.5" cy="572.5" r="3.29"/><circle cx="960.5" cy="582.5" r="3.29"/><circle cx="955.5" cy="588.5" r="3.29"/><circle cx="946.5" cy="595.5" r="3.29"/><circle cx="953.5" cy="601.5" r="3.29"/><circle cx="962.5" cy="601.5" r="3.29"/><circle cx="947.5" cy="607.5" r="3.29"/><circle cx="949.5" cy="610.5" r="3.29"/><circle cx="935.5" cy="616.5" r="3.29"/><circle cx="932.5" cy="617.5" r="3.29"/><circle cx="951.5" cy="618.5" r="3.29"/><circle cx="948.5" cy="621.5" r="3.29"/><circle cx="939.5" cy="625.5" r="3.29"/><circle cx="936.5" cy="628.5" r="3.29"/><circle cx="941.5" cy="629.5" r="3.29"/><circle cx="944.5" cy="626.5" r="3.29"/><circle cx="925.5" cy="632.5" r="3.29"/><circle cx="922.5" cy="629.5" r="3.29"/><circle cx="918.5" cy="637.5" r="3.29"/><circle cx="920.5" cy="641.5" r="3.29"/><circle cx="914.5" cy="640.5" r="3.29"/><circle cx="910.5" cy="644.5" r="3.29"/><circle cx="907.5" cy="648.5" r="3.29"/><circle cx="914.5" cy="649.5" r="3.29"/><circle cx="921.5" cy="651.5" r="3.29"/><circle cx="905.5" cy="654.5" r="3.29"/><circle cx="912.5" cy="656.5" r="3.29"/><circle cx="900.5" cy="657.5" r="3.29"/><circle cx="904.5" cy="658.5" r="3.29"/><circle cx="890.5" cy="657.5" r="3.29"/><circle cx="893.5" cy="654.5" r="3.29"/><circle cx="895.5" cy="650.5" r="3.29"/><circle cx="932.5" cy="611.5" r="3.29"/><circle cx="895.5" cy="651.5" r="3.29"/><circle cx="909.5" cy="631.5" r="3.29"/><circle cx="883.5" cy="655.5" r="3.29"/><circle cx="912.5" cy="631.5" r="3.29"/><circle cx="906.5" cy="637.5" r="3.29"/><circle cx="895.5" cy="645.5" r="3.29"/><circle cx="902.5" cy="637.5" r="3.29"/><circle cx="897.5" cy="642.5" r="3.29"/><circle cx="911.5" cy="632.5" r="3.29"/><circle cx="893.5" cy="653.5" r="3.29"/><circle cx="905.5" cy="634.5" r="3.29"/><circle cx="909.5" cy="631.5" r="3.29"/><circle cx="916.5" cy="624.5" r="3.29"/><circle cx="901.5" cy="639.5" r="3.29"/><circle cx="921.5" cy="618.5" r="3.29"/><circle cx="922.5" cy="622.5" r="3.29"/><circle cx="902.5" cy="638.5" r="3.29"/><circle cx="893.5" cy="646.5" r="3.29"/><circle cx="926.5" cy="613.5" r="3.29"/><circle cx="929.5" cy="610.5" r="3.29"/><circle cx="913.5" cy="638.5" r="3.29"/><circle cx="883.5" cy="655.5" r="3.29"/><circle cx="882.5" cy="655.5" r="3.29"/><circle cx="905.5" cy="641.5" r="3.29"/><circle cx="902.5" cy="638.5" r="3.29"/><circle cx="931.5" cy="608.5" r="3.29"/><circle cx="892.5" cy="647.5" r="3.29"/><circle cx="902.5" cy="638.5" r="3.29"/><circle cx="894.5" cy="648.5" r="3.29"/><circle cx="904.5" cy="639.5" r="3.29"/><circle cx="914.5" cy="626.5" r="3.29"/><circle cx="918.5" cy="622.5" r="3.29"/><circle cx="921.5" cy="618.5" r="3.29"/><circle cx="910.5" cy="634.5" r="3.29"/><circle cx="910.5" cy="633.5" r="3.29"/><circle cx="908.5" cy="631.5" r="3.29"/><circle cx="896.5" cy="647.5" r="3.29"/><circle cx="903.5" cy="640.5" r="3.29"/><circle cx="931.5" cy="611.5" r="3.29"/><circle cx="910.5" cy="637.5" r="3.29"/><circle cx="891.5" cy="651.5" r="3.29"/><circle cx="918.5" cy="626.5" r="3.29"/><circle cx="892.5" cy="647.5" r="3.29"/><circle cx="913.5" cy="630.5" r="3.29"/><circle cx="916.5" cy="627.5" r="3.29"/><circle cx="906.5" cy="634.5" r="3.29"/><circle cx="922.5" cy="617.5" r="3.29"/><circle cx="893.5" cy="646.5" r="3.29"/><circle cx="886.5" cy="655.5" r="3.29"/><circle cx="921.5" cy="626.5" r="3.29"/><circle cx="897.5" cy="646.5" r="3.29"/><circle cx="916.5" cy="624.5" r="3.29"/><circle cx="896.5" cy="643.5" r="3.29"/><circle cx="912.5" cy="631.5" r="3.29"/><circle cx="898.5" cy="641.5" r="3.29"/><circle cx="890.5" cy="649.5" r="3.29"/><circle cx="897.5" cy="643.5" r="3.29"/><circle cx="931.5" cy="612.5" r="3.29"/><circle cx="889.5" cy="650.5" r="3.29"/><circle cx="892.5" cy="647.5" r="3.29"/><circle cx="899.5" cy="641.5" r="3.29"/><circle cx="898.5" cy="641.5" r="3.29"/><circle cx="898.5" cy="641.5" r="3.29"/><circle cx="927.5" cy="624.5" r="3.29"/><circle cx="886.5" cy="652.5" r="3.29"/><circle cx="884.5" cy="654.5" r="3.29"/><circle cx="882.5" cy="656.5" r="3.29"/><circle cx="891.5" cy="651.5" r="3.29"/><circle cx="893.5" cy="646.5" r="3.29"/><circle cx="883.5" cy="655.5" r="3.29"/><circle cx="895.5" cy="645.5" r="3.29"/><circle cx="890.5" cy="648.5" r="3.29"/><circle cx="892.5" cy="653.5" r="3.29"/><circle cx="921.5" cy="618.5" r="3.29"/><circle cx="901.5" cy="639.5" r="3.29"/><circle cx="899.5" cy="644.5" r="3.29"/><circle cx="899.5" cy="640.5" r="3.29"/><circle cx="883.5" cy="655.5" r="3.29"/><circle cx="921.5" cy="626.5" r="3.29"/><circle cx="911.5" cy="628.5" r="3.29"/><circle cx="913.5" cy="634.5" r="3.29"/><circle cx="892.5" cy="647.5" r="3.29"/><circle cx="887.5" cy="654.5" r="3.29"/><circle cx="883.5" cy="655.5" r="3.29"/><circle cx="892.5" cy="647.5" r="3.29"/><circle cx="968.5" cy="554.5" r="3.29"/><circle cx="969.5" cy="553.5" r="3.29"/><circle cx="970.5" cy="552.5" r="3.29"/><circle cx="971.5" cy="551.5" r="3.29"/><circle cx="980.5" cy="536.5" r="3.29"/><circle cx="980.5" cy="536.5" r="3.29"/><circle cx="981.5" cy="534.5" r="3.29"/><circle cx="982.5" cy="534.5" r="3.29"/><circle cx="983.5" cy="531.5" r="3.29"/><circle cx="953.5" cy="576.5" r="3.29"/><circle cx="954.5" cy="575.5" r="3.29"/><circle cx="956.5" cy="572.5" r="3.29"/><circle cx="958.5" cy="569.5" r="3.29"/><circle cx="960.5" cy="567.5" r="3.29"/><circle cx="961.5" cy="565.5" r="3.29"/><circle cx="962.5" cy="563.5" r="3.29"/><circle cx="964.5" cy="561.5" r="3.29"/><circle cx="965.5" cy="559.5" r="3.29"/><circle cx="967.5" cy="557.5" r="3.29"/><circle cx="952.5" cy="578.5" r="3.29"/><circle cx="951.5" cy="579.5" r="3.29"/><circle cx="950.5" cy="580.5" r="3.29"/><circle cx="920.5" cy="612.5" r="3.29"/><circle cx="910.5" cy="623.5" r="3.29"/><circle cx="901.5" cy="632.5" r="3.29"/><circle cx="886.5" cy="647.5" r="3.29"/>
</g>
<g fill="#3498db" stroke="#3498db" stroke-width="2.083" fill-opacity=".5" stroke-opacity=".5">
<circle cx="321.5" cy="651.5" r="3.29"/><circle cx="321.5" cy="651.5" r="3.29"/><circle cx="317.5" cy="648.5" r="3.29"/><circle cx="319.5" cy="650.5" r="3.29"/><circle cx="319.5" cy="649.5" r="3.29"/><circle cx="311.5" cy="642.5" r="3.29"/><circle cx="315.5" cy="646.5" r="3.29"/><circle cx="314.5" cy="645.5" r="3.29"/><circle cx="324.5" cy="654.5" r="3.29"/><circle cx="307.5" cy="638.5" r="3.29"/><circle cx="318.5" cy="648.5" r="3.29"/><circle cx="317.5" cy="648.5" r="3.29"/><circle cx="314.5" cy="645.5" r="3.29"/><circle cx="327.5" cy="656.5" r="3.29"/><circle cx="326.5" cy="655.5" r="3.29"/><circle cx="315.5" cy="646.5" r="3.29"/><circle cx="307.5" cy="639.5" r="3.29"/><circle cx="309.5" cy="640.5" r="3.29"/><circle cx="306.5" cy="638.5" r="3.29"/><circle cx="321.5" cy="651.5" r="3.29"/><circle cx="314.5" cy="645.5" r="3.29"/><circle cx="307.5" cy="638.5" r="3.29"/><circle cx="310.5" cy="641.5" r="3.29"/><circle cx="311.5" cy="642.5" r="3.29"/><circle cx="314.5" cy="645.5" r="3.29"/><circle cx="319.5" cy="650.5" r="3.29"/><circle cx="320.5" cy="650.5" r="3.29"/><circle cx="324.5" cy="653.5" r="3.29"/><circle cx="327.5" cy="656.5" r="3.29"/><circle cx="305.5" cy="636.5" r="3.29"/><circle cx="315.5" cy="646.5" r="3.29"/><circle cx="321.5" cy="651.5" r="3.29"/><circle cx="324.5" cy="654.5" r="3.29"/><circle cx="306.5" cy="637.5" r="3.29"/><circle cx="321.5" cy="651.5" r="3.29"/><circle cx="323.5" cy="653.5" r="3.29"/><circle cx="325.5" cy="655.5" r="3.29"/><circle cx="326.5" cy="656.5" r="3.29"/><circle cx="306.5" cy="637.5" r="3.29"/><circle cx="317.5" cy="648.5" r="3.29"/><circle cx="314.5" cy="644.5" r="3.29"/><circle cx="315.5" cy="646.5" r="3.29"/><circle cx="318.5" cy="648.5" r="3.29"/><circle cx="326.5" cy="656.5" r="3.29"/><circle cx="325.5" cy="655.5" r="3.29"/><circle cx="321.5" cy="651.5" r="3.29"/><circle cx="323.5" cy="653.5" r="3.29"/><circle cx="327.5" cy="657.5" r="3.29"/><circle cx="310.5" cy="641.5" r="3.29"/><circle cx="325.5" cy="654.5" r="3.29"/><circle cx="321.5" cy="651.5" r="3.29"/><circle cx="307.5" cy="638.5" r="3.29"/><circle cx="327.5" cy="656.5" r="3.29"/><circle cx="304.5" cy="635.5" r="3.29"/><circle cx="324.5" cy="654.5" r="3.29"/><circle cx="321.5" cy="651.5" r="3.29"/><circle cx="324.5" cy="654.5" r="3.29"/><circle cx="321.5" cy="651.5" r="3.29"/><circle cx="327.5" cy="657.5" r="3.29"/><circle cx="327.5" cy="656.5" r="3.29"/><circle cx="320.5" cy="651.5" r="3.29"/><circle cx="322.5" cy="652.5" r="3.29"/><circle cx="326.5" cy="656.5" r="3.29"/><circle cx="314.5" cy="645.5" r="3.29"/><circle cx="319.5" cy="649.5" r="3.29"/><circle cx="306.5" cy="637.5" r="3.29"/><circle cx="315.5" cy="645.5" r="3.29"/><circle cx="160.5" cy="397.5" r="3.29"/><circle cx="166.5" cy="412.5" r="3.29"/><circle cx="209.5" cy="500.5" r="3.29"/><circle cx="181.5" cy="517.5" r="3.29"/><circle cx="219.5" cy="525.5" r="3.29"/><circle cx="228.5" cy="539.5" r="3.29"/><circle cx="231.5" cy="544.5" r="3.29"/><circle cx="237.5" cy="553.5" r="3.29"/><circle cx="236.5" cy="555.5" r="3.29"/><circle cx="235.5" cy="556.5" r="3.29"/><circle cx="247.5" cy="567.5" r="3.29"/><circle cx="249.5" cy="571.5" r="3.29"/><circle cx="250.5" cy="572.5" r="3.29"/><circle cx="254.5" cy="577.5" r="3.29"/><circle cx="259.5" cy="584.5" r="3.29"/><circle cx="251.5" cy="588.5" r="3.29"/><circle cx="262.5" cy="588.5" r="3.29"/><circle cx="264.5" cy="590.5" r="3.29"/><circle cx="261.5" cy="595.5" r="3.29"/><circle cx="236.5" cy="603.5" r="3.29"/><circle cx="236.5" cy="603.5" r="3.29"/><circle cx="263.5" cy="603.5" r="3.29"/><circle cx="269.5" cy="605.5" r="3.29"/><circle cx="249.5" cy="616.5" r="3.29"/><circle cx="269.5" cy="597.5" r="3.29"/><circle cx="270.5" cy="598.5" r="3.29"/><circle cx="270.5" cy="599.5" r="3.29"/><circle cx="271.5" cy="600.5" r="3.29"/><circle cx="272.5" cy="600.5" r="3.29"/><circle cx="273.5" cy="601.5" r="3.29"/><circle cx="274.5" cy="603.5" r="3.29"/><circle cx="275.5" cy="604.5" r="3.29"/><circle cx="276.5" cy="605.5" r="3.29"/><circle cx="277.5" cy="606.5" r="3.29"/><circle cx="285.5" cy="615.5" r="3.29"/><circle cx="286.5" cy="617.5" r="3.29"/><circle cx="287.5" cy="617.5" r="3.29"/><circle cx="288.5" cy="619.5" r="3.29"/><circle cx="289.5" cy="619.5" r="3.29"/><circle cx="290.5" cy="620.5" r="3.29"/><circle cx="291.5" cy="622.5" r="3.29"/><circle cx="290.5" cy="625.5" r="3.29"/><circle cx="296.5" cy="627.5" r="3.29"/><circle cx="297.5" cy="628.5" r="3.29"/><circle cx="298.5" cy="629.5" r="3.29"/><circle cx="291.5" cy="633.5" r="3.29"/><circle cx="287.5" cy="640.5" r="3.29"/><circle cx="294.5" cy="639.5" r="3.29"/><circle cx="300.5" cy="640.5" r="3.29"/><circle cx="292.5" cy="647.5" r="3.29"/><circle cx="290.5" cy="650.5" r="3.29"/><circle cx="301.5" cy="652.5" r="3.29"/><circle cx="295.5" cy="655.5" r="3.29"/><circle cx="309.5" cy="647.5" r="3.29"/><circle cx="318.5" cy="656.5" r="3.29"/>
</g>
<path d="M438.50 813V56" fill="none" stroke="#000" stroke-opacity=".5" stroke-width="3.125" stroke-dasharray="11.562 5.000"/>
<path d="M768.50 813V56" fill="none" stroke="#000" stroke-opacity=".5" stroke-width="3.125" stroke-dasharray="11.562 5.000"/>
</g>
<g stroke="#000" stroke-width="1.667" stroke-linecap="square"><path d="M113 813V56"/><path d="M1161 813V56"/><path d="M113 813H1161"/><path d="M113 56H1161"/></g>
<g stroke="#000" stroke-width="1.667">
<path d="M190.00 813v7.00"/><path d="M328.00 813v7.00"/><path d="M465.00 813v7.00"/><path d="M603.00 813v7.00"/><path d="M741.00 813v7.00"/><path d="M878.00 813v7.00"/><path d="M1016.00 813v7.00"/><path d="M1154.00 813v7.00"/><path d="M113 778.00h-7.00"/><path d="M113 674.00h-7.00"/><path d="M113 571.00h-7.00"/><path d="M113 467.00h-7.00"/><path d="M113 363.00h-7.00"/><path d="M113 260.00h-7.00"/><path d="M113 156.00h-7.00"/>
</g>
<g class="t" text-anchor="middle">
<text id="xt0" x="188.90" y="844.41">−0.75</text>
<text id="xt1" x="327.10" y="844.41">−0.50</text>
<text id="xt2" x="465.05" y="844.41">−0.25</text>
<text id="xt3" x="602.25" y="844.41">0.00</text>
<text id="xt4" x="740.45" y="844.41">0.25</text>
<text id="xt5" x="878.40" y="844.41">0.50</text>
<text id="xt6" x="1015.35" y="844.41">0.75</text>
<text id="xt7" x="1153.30" y="844.41">1.00</text>
<text id="xl" x="637.00" y="871.91">Pearson Correlation</text>
<text id="yl" transform="translate(38.86 436.40) rotate(-90)">-log10(p-value)</text>
</g>
<g class="t" text-anchor="end">
<text id="yt0" x="98.17" y="785.82">0.0</text>
<text id="yt1" x="98.17" y="682.15">2.5</text>
<text id="yt2" x="98.17" y="579.48">5.0</text>
<text id="yt3" x="98.17" y="474.81">7.5</text>
<text id="yt4" x="97.42" y="371.15">10.0</text>
<text id="yt5" x="97.42" y="268.48">12.5</text>
<text id="yt6" x="97.42" y="163.81">15.0</text>
</g>
<text id="ti" class="ti" text-anchor="middle" x="636.75" y="42.50">A. pulchra: GBM-Gene Correlations</text>
<path d="M923.17 164.00H1145.83Q1150.00 164.00 1150.00 159.83V70.17Q1150.00 66.00 1145.83 66.00H923.17Q919.00 66.00 919.00 70.17V159.83Q919.00 164.00 923.17 164.00Z" fill="#fff" stroke="#ccc" stroke-width="2.080" opacity=".8"/>
<circle cx="948.50" cy="85.50" r="2.33" fill="#808080" stroke="#808080" stroke-width="2.083" fill-opacity=".1" stroke-opacity=".1"/>
<circle cx="948.50" cy="116.50" r="3.29" fill="#e74c3c" stroke="#e74c3c" stroke-width="2.083" fill-opacity=".5" stroke-opacity=".5"/>
<circle cx="948.50" cy="146.50" r="3.29" fill="#3498db" stroke="#3498db" stroke-width="2.083" fill-opacity=".5" stroke-opacity=".5"/>
<g class="t">
<text id="lgNo" x="985.88" y="90.58">Non-significant</text>
<text id="lgPo" x="985.38" y="121.16">Positive</text>
<text id="lgNe" x="985.88" y="151.74">Negative</text>
</g>
</svg>
</body></html>
